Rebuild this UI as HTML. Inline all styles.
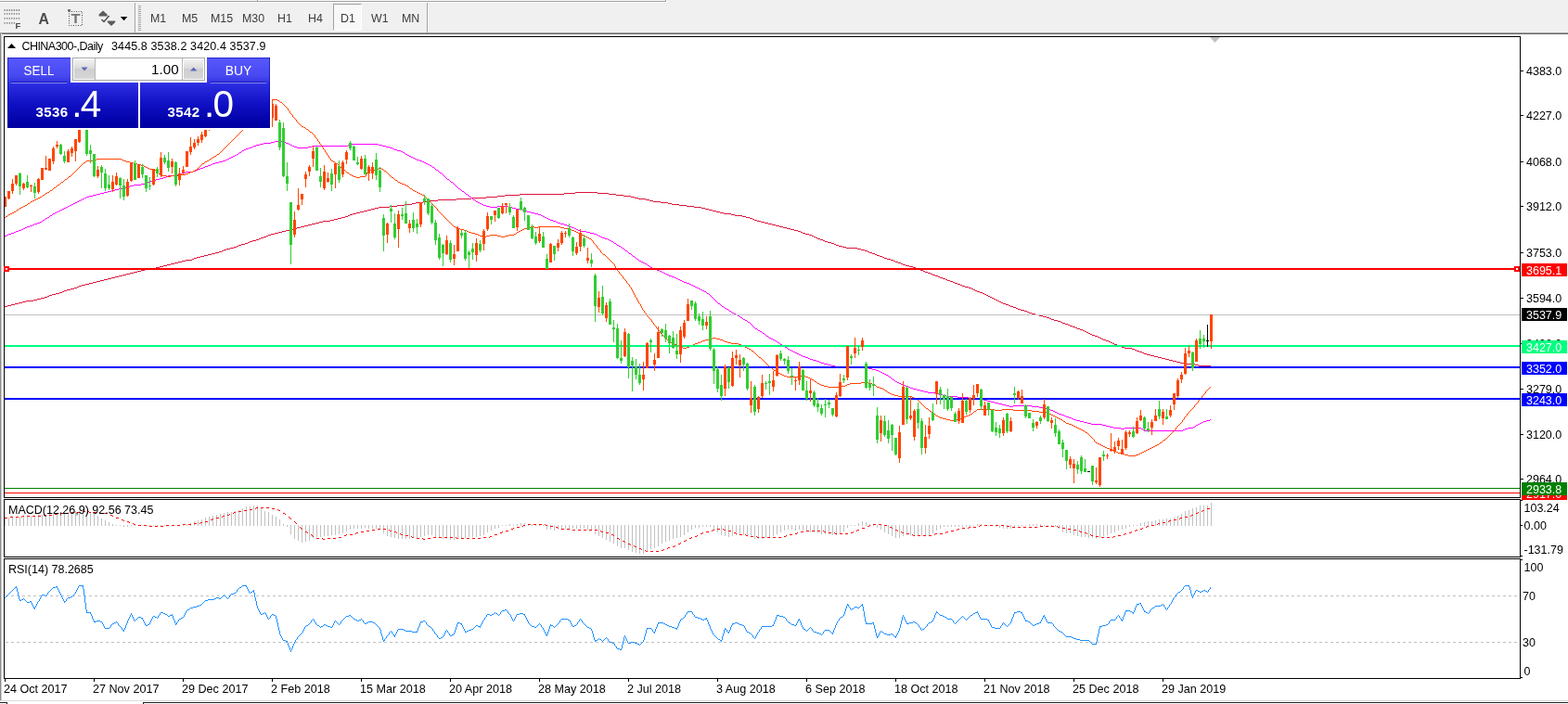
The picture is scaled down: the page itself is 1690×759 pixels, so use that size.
<!DOCTYPE html>
<html lang="en"><head><meta charset="utf-8"><title>CHINA300-,Daily</title>
<style>
html,body{margin:0;padding:0;background:#fff;}
body{width:1690px;height:759px;overflow:hidden;position:relative;font-family:"Liberation Sans", "DejaVu Sans", sans-serif;font-size:12px;color:#000;}
.a{position:absolute;}
#tb{left:0;top:0;width:1690px;height:37px;background:#f0f0f0;}
.tf{position:absolute;top:12px;height:16px;line-height:16px;font-size:12.4px;color:#3c3c3c;white-space:nowrap;}
.lbl{position:absolute;left:1645px;height:14px;line-height:14px;font-size:12.5px;white-space:nowrap;color:#000;}
.box{position:absolute;left:1640px;width:49px;height:14px;line-height:14px;font-size:12.5px;color:#fff;white-space:nowrap;}
.box span{position:absolute;left:5px;top:1px;}
.dt{position:absolute;top:735px;height:16px;line-height:16px;font-size:12.6px;white-space:nowrap;color:#000;}
.t{position:absolute;white-space:nowrap;}
svg{position:absolute;left:0;top:0;}
</style></head>
<body>
<div id="tb" class="a"></div>
<div class="a" style="left:0;top:0;width:717px;height:1px;background:#fafafa"></div>
<div class="a" style="left:0;top:1px;width:718px;height:1px;background:#a0a0a0"></div>
<div class="a" style="left:0;top:2px;width:719px;height:1px;background:#fff"></div>
<div class="a" style="left:717px;top:0;width:1px;height:2px;background:#a0a0a0"></div>
<div class="a" style="left:718px;top:0;width:1px;height:3px;background:#fff"></div>
<div class="a" style="left:277px;top:0;width:1px;height:2px;background:#a0a0a0"></div>
<div class="a" style="left:278px;top:0;width:1px;height:1px;background:#fff"></div>
<div class="a" style="left:0;top:35px;width:1690px;height:1px;background:#a0a0a0"></div>
<div class="a" style="left:0;top:36px;width:1690px;height:1px;background:#696969"></div>
<div class="a" style="left:0;top:37px;width:1690px;height:722px;background:#fff"></div>
<div class="a" style="left:0;top:36px;width:2px;height:720px;background:linear-gradient(90deg,#8c8c8c 0,#8c8c8c 1px,#d0d0d0 1px)"></div>
<div class="a" style="left:145px;top:3px;width:1px;height:32px;background:#a0a0a0"></div>
<div class="a" style="left:146px;top:3px;width:1px;height:32px;background:#fff"></div>
<div class="a" style="left:460px;top:3px;width:1px;height:32px;background:#a0a0a0"></div>
<div class="a" style="left:461px;top:3px;width:1px;height:32px;background:#fff"></div>
<div class="a" style="left:359px;top:4px;width:31px;height:29px;box-sizing:border-box;border:1px solid;border-color:#a0a0a0 #fff #fff #a0a0a0;background:#f8f8f8"></div>
<div class="tf" style="left:162px">M1</div>
<div class="tf" style="left:196px">M5</div>
<div class="tf" style="left:227px">M15</div>
<div class="tf" style="left:261px">M30</div>
<div class="tf" style="left:299px">H1</div>
<div class="tf" style="left:332px">H4</div>
<div class="tf" style="left:367px">D1</div>
<div class="tf" style="left:400px">W1</div>
<div class="tf" style="left:433px">MN</div>
<div class="lbl" style="top:70px">4383.0</div>
<div class="lbl" style="top:118px">4227.0</div>
<div class="lbl" style="top:168px">4068.0</div>
<div class="lbl" style="top:216px">3912.0</div>
<div class="lbl" style="top:266px">3753.0</div>
<div class="lbl" style="top:315px">3594.0</div>
<div class="lbl" style="top:364px">3436.0</div>
<div class="lbl" style="top:413px">3279.0</div>
<div class="lbl" style="top:462px">3120.0</div>
<div class="lbl" style="top:510px">2964.0</div>
<div class="lbl" style="left:1642.5px;top:541px">103.24</div>
<div class="lbl" style="left:1642.5px;top:560px">0.00</div>
<div class="lbl" style="left:1642.5px;top:586px">-131.79</div>
<div class="lbl" style="left:1642.5px;top:605px">100</div>
<div class="lbl" style="left:1641px;top:636px">70</div>
<div class="lbl" style="left:1641px;top:686px">30</div>
<div class="lbl" style="left:1642.5px;top:717px">0</div>
<div class="dt" style="left:4px">24 Oct 2017</div>
<div class="dt" style="left:100px">27 Nov 2017</div>
<div class="dt" style="left:196px">29 Dec 2017</div>
<div class="dt" style="left:292px">2 Feb 2018</div>
<div class="dt" style="left:388px">15 Mar 2018</div>
<div class="dt" style="left:484px">20 Apr 2018</div>
<div class="dt" style="left:580px">28 May 2018</div>
<div class="dt" style="left:676px">2 Jul 2018</div>
<div class="dt" style="left:772px">3 Aug 2018</div>
<div class="dt" style="left:868px">6 Sep 2018</div>
<div class="dt" style="left:964px">18 Oct 2018</div>
<div class="dt" style="left:1060px">21 Nov 2018</div>
<div class="dt" style="left:1156px">25 Dec 2018</div>
<div class="dt" style="left:1252px">29 Jan 2019</div>
<svg width="1690" height="759" viewBox="0 0 1690 759">
<g shape-rendering="crispEdges">
<path d="M5 330h3v1h-3zM8 329h4v1h-4zM12 328h4v1h-4zM16 327h4v1h-4zM20 326h4v1h-4zM24 325h4v1h-4zM28 324h8v1h-8zM36 323h4v1h-4zM40 322h4v1h-4zM44 321h4v1h-4zM48 320h3v1h-3zM51 319h2v1h-2zM53 318h3v1h-3zM56 317h4v1h-4zM60 316h4v1h-4zM64 315h3v1h-3zM67 314h2v1h-2zM69 313h3v1h-3zM72 312h4v1h-4zM76 311h4v1h-4zM80 310h3v1h-3zM83 309h2v1h-2zM85 308h3v1h-3zM88 307h4v1h-4zM92 306h4v1h-4zM96 305h4v1h-4zM100 304h4v1h-4zM104 303h4v1h-4zM108 302h4v1h-4zM112 301h4v1h-4zM116 300h4v1h-4zM120 299h4v1h-4zM124 298h4v1h-4zM128 297h4v1h-4zM132 296h4v1h-4zM136 295h4v1h-4zM140 294h4v1h-4zM144 293h4v1h-4zM148 292h4v1h-4zM152 291h4v1h-4zM156 290h8v1h-8zM164 289h4v1h-4zM168 288h4v1h-4zM172 287h4v1h-4zM176 286h4v1h-4zM180 285h4v1h-4zM184 284h4v1h-4zM188 283h4v1h-4zM192 282h4v1h-4zM196 281h4v1h-4zM200 280h7v1h-7zM207 279h2v1h-2zM209 278h3v1h-3zM212 277h4v1h-4zM216 276h4v1h-4zM220 275h4v1h-4zM224 274h4v1h-4zM228 273h4v1h-4zM232 272h4v1h-4zM236 271h3v1h-3zM239 270h2v1h-2zM241 269h3v1h-3zM244 268h4v1h-4zM248 267h4v1h-4zM252 266h3v1h-3zM255 265h2v1h-2zM257 264h3v1h-3zM260 263h4v1h-4zM264 262h3v1h-3zM267 261h2v1h-2zM269 260h3v1h-3zM272 259h4v1h-4zM276 258h3v1h-3zM279 257h2v1h-2zM281 256h3v1h-3zM284 255h3v1h-3zM287 254h2v1h-2zM289 253h3v1h-3zM292 252h4v1h-4zM296 251h4v1h-4zM300 250h4v1h-4zM304 249h4v1h-4zM308 248h4v1h-4zM312 247h4v1h-4zM316 246h4v1h-4zM320 245h4v1h-4zM324 244h4v1h-4zM328 243h4v1h-4zM332 242h4v1h-4zM336 241h4v1h-4zM340 240h4v1h-4zM344 239h4v1h-4zM348 238h8v1h-8zM356 237h4v1h-4zM360 236h4v1h-4zM364 235h4v1h-4zM368 234h4v1h-4zM372 233h3v1h-3zM375 232h2v1h-2zM377 231h3v1h-3zM380 230h4v1h-4zM384 229h4v1h-4zM388 228h4v1h-4zM392 227h4v1h-4zM396 226h4v1h-4zM400 225h4v1h-4zM404 224h4v1h-4zM408 223h12v1h-12zM420 222h8v1h-8zM428 221h8v1h-8zM436 220h8v1h-8zM444 219h4v1h-4zM448 218h8v1h-8zM456 217h4v1h-4zM460 216h12v1h-12zM472 215h20v1h-20zM492 214h16v1h-16zM508 213h16v1h-16zM524 212h12v1h-12zM536 211h8v1h-8zM544 210h16v1h-16zM560 209h48v1h-48zM608 208h12v1h-12zM620 207h24v1h-24zM644 208h12v1h-12zM656 209h8v1h-8zM664 210h8v1h-8zM672 211h8v1h-8zM680 212h4v1h-4zM684 213h4v1h-4zM688 214h8v1h-8zM696 215h4v1h-4zM700 216h4v1h-4zM704 217h8v1h-8zM712 218h8v1h-8zM720 219h4v1h-4zM724 220h8v1h-8zM732 221h8v1h-8zM740 222h8v1h-8zM748 223h8v1h-8zM756 224h4v1h-4zM760 225h4v1h-4zM764 226h4v1h-4zM768 227h4v1h-4zM772 228h4v1h-4zM776 229h4v1h-4zM780 230h8v1h-8zM788 231h4v1h-4zM792 232h8v1h-8zM800 233h4v1h-4zM804 234h4v1h-4zM808 235h3v1h-3zM811 236h2v1h-2zM813 237h3v1h-3zM816 238h4v1h-4zM820 239h4v1h-4zM824 240h4v1h-4zM828 241h4v1h-4zM832 242h4v1h-4zM836 243h4v1h-4zM840 244h4v1h-4zM844 245h4v1h-4zM848 246h4v1h-4zM852 247h4v1h-4zM856 248h4v1h-4zM860 249h3v1h-3zM863 250h2v1h-2zM865 251h3v1h-3zM868 252h4v1h-4zM872 253h3v1h-3zM875 254h2v1h-2zM877 255h2v1h-2zM879 256h2v1h-2zM881 257h3v1h-3zM884 258h3v1h-3zM887 259h2v1h-2zM889 260h3v1h-3zM892 261h4v1h-4zM896 262h3v1h-3zM899 263h2v1h-2zM901 264h3v1h-3zM904 265h4v1h-4zM908 266h4v1h-4zM912 267h12v1h-12zM924 268h4v1h-4zM928 269h4v1h-4zM932 270h3v1h-3zM935 271h2v1h-2zM937 272h3v1h-3zM940 273h3v1h-3zM943 274h2v1h-2zM945 275h3v1h-3zM948 276h3v1h-3zM951 277h2v1h-2zM953 278h3v1h-3zM956 279h4v1h-4zM960 280h3v1h-3zM963 281h2v1h-2zM965 282h3v1h-3zM968 283h3v1h-3zM971 284h2v1h-2zM973 285h3v1h-3zM976 286h4v1h-4zM980 287h4v1h-4zM984 288h3v1h-3zM987 289h2v1h-2zM989 290h3v1h-3zM992 291h3v1h-3zM995 292h2v1h-2zM997 293h3v1h-3zM1000 294h3v1h-3zM1003 295h2v1h-2zM1005 296h3v1h-3zM1008 297h3v1h-3zM1011 298h2v1h-2zM1013 299h3v1h-3zM1016 300h3v1h-3zM1019 301h2v1h-2zM1021 302h3v1h-3zM1024 303h3v1h-3zM1027 304h2v1h-2zM1029 305h3v1h-3zM1032 306h3v1h-3zM1035 307h2v1h-2zM1037 308h3v1h-3zM1040 309h4v1h-4zM1044 310h3v1h-3zM1047 311h2v1h-2zM1049 312h2v1h-2zM1051 313h2v1h-2zM1053 314h3v1h-3zM1056 315h3v1h-3zM1059 316h2v1h-2zM1061 317h2v1h-2zM1063 318h2v1h-2zM1065 319h2v1h-2zM1067 320h2v1h-2zM1069 321h2v1h-2zM1071 322h2v1h-2zM1073 323h2v1h-2zM1075 324h2v1h-2zM1077 325h2v1h-2zM1079 326h2v1h-2zM1081 327h3v1h-3zM1084 328h3v1h-3zM1087 329h2v1h-2zM1089 330h3v1h-3zM1092 331h3v1h-3zM1095 332h2v1h-2zM1097 333h3v1h-3zM1100 334h4v1h-4zM1104 335h3v1h-3zM1107 336h2v1h-2zM1109 337h3v1h-3zM1112 338h4v1h-4zM1116 339h4v1h-4zM1120 340h4v1h-4zM1124 341h4v1h-4zM1128 342h3v1h-3zM1131 343h2v1h-2zM1133 344h3v1h-3zM1136 345h4v1h-4zM1140 346h3v1h-3zM1143 347h2v1h-2zM1145 348h3v1h-3zM1148 349h3v1h-3zM1151 350h2v1h-2zM1153 351h3v1h-3zM1156 352h3v1h-3zM1159 353h2v1h-2zM1161 354h3v1h-3zM1164 355h3v1h-3zM1167 356h2v1h-2zM1169 357h2v1h-2zM1171 358h2v1h-2zM1173 359h2v1h-2zM1175 360h2v1h-2zM1177 361h3v1h-3zM1180 362h3v1h-3zM1183 363h2v1h-2zM1185 364h2v1h-2zM1187 365h2v1h-2zM1189 366h3v1h-3zM1192 367h3v1h-3zM1195 368h2v1h-2zM1197 369h2v1h-2zM1199 370h2v1h-2zM1201 371h3v1h-3zM1204 372h3v1h-3zM1207 373h2v1h-2zM1209 374h3v1h-3zM1212 375h8v1h-8zM1220 376h3v1h-3zM1223 377h2v1h-2zM1225 378h3v1h-3zM1228 379h3v1h-3zM1231 380h2v1h-2zM1233 381h3v1h-3zM1236 382h4v1h-4zM1240 383h4v1h-4zM1244 384h4v1h-4zM1248 385h4v1h-4zM1252 386h4v1h-4zM1256 387h4v1h-4zM1260 388h4v1h-4zM1264 389h4v1h-4zM1268 390h4v1h-4zM1272 391h4v1h-4zM1276 392h12v1h-12zM1288 393h4v1h-4zM1292 394h13v1h-13z" fill="#dc143c"/>
<path d="M5 254h2v1h-2zM7 253h2v1h-2zM9 252h3v1h-3zM12 251h3v1h-3zM15 250h2v1h-2zM17 249h3v1h-3zM20 248h3v1h-3zM23 247h2v1h-2zM25 246h2v1h-2zM27 245h2v1h-2zM29 244h3v1h-3zM32 243h3v1h-3zM35 242h2v1h-2zM37 241h3v1h-3zM40 240h3v1h-3zM43 239h2v1h-2zM45 238h1v1h-1zM46 237h2v1h-2zM48 236h1v1h-1zM49 235h2v1h-2zM51 234h2v1h-2zM53 233h1v1h-1zM54 232h2v1h-2zM56 231h1v1h-1zM57 230h2v1h-2zM59 229h2v1h-2zM61 228h2v1h-2zM63 227h2v1h-2zM65 226h2v1h-2zM67 225h2v1h-2zM69 224h2v1h-2zM71 223h2v1h-2zM73 222h2v1h-2zM75 221h2v1h-2zM77 220h2v1h-2zM79 219h2v1h-2zM81 218h2v1h-2zM83 217h2v1h-2zM85 216h2v1h-2zM87 215h2v1h-2zM89 214h2v1h-2zM91 213h2v1h-2zM93 212h3v1h-3zM96 211h4v1h-4zM100 210h4v1h-4zM104 209h4v1h-4zM108 208h4v1h-4zM112 207h4v1h-4zM116 206h4v1h-4zM120 205h4v1h-4zM124 204h4v1h-4zM128 203h4v1h-4zM132 202h4v1h-4zM136 201h4v1h-4zM140 200h4v1h-4zM144 199h8v1h-8zM152 198h4v1h-4zM156 197h3v1h-3zM159 196h2v1h-2zM161 195h3v1h-3zM164 194h4v1h-4zM168 193h4v1h-4zM172 192h4v1h-4zM176 191h3v1h-3zM179 190h2v1h-2zM181 189h7v1h-7zM188 188h4v1h-4zM192 187h4v1h-4zM196 186h4v1h-4zM200 185h8v1h-8zM208 184h3v1h-3zM211 183h2v1h-2zM213 182h3v1h-3zM216 181h3v1h-3zM219 180h2v1h-2zM221 179h3v1h-3zM224 178h3v1h-3zM227 177h2v1h-2zM229 176h3v1h-3zM232 175h4v1h-4zM236 174h4v1h-4zM240 173h3v1h-3zM243 172h2v1h-2zM245 171h2v1h-2zM247 170h2v1h-2zM249 169h2v1h-2zM251 168h2v1h-2zM253 167h2v1h-2zM255 166h2v1h-2zM257 165h1v1h-1zM258 164h2v1h-2zM260 163h1v1h-1zM261 162h2v1h-2zM263 161h2v1h-2zM265 160h3v1h-3zM268 159h3v1h-3zM271 158h2v1h-2zM273 157h3v1h-3zM276 156h4v1h-4zM280 155h4v1h-4zM284 154h8v1h-8zM292 153h4v1h-4zM296 152h8v1h-8zM304 153h4v1h-4zM308 154h3v1h-3zM311 155h2v1h-2zM313 156h2v1h-2zM315 157h2v1h-2zM317 158h3v1h-3zM320 159h12v1h-12zM332 158h4v1h-4zM336 157h39v1h-39zM375 156h2v1h-2zM377 155h31v1h-31zM408 156h4v1h-4zM412 157h4v1h-4zM416 158h4v1h-4zM420 159h3v1h-3zM423 160h2v1h-2zM425 161h3v1h-3zM428 162h4v1h-4zM432 163h2v1h-2zM434 164h2v1h-2zM436 165h1v1h-1zM437 166h2v1h-2zM439 167h2v1h-2zM441 168h2v1h-2zM443 169h2v1h-2zM445 170h2v1h-2zM447 171h2v1h-2zM449 172h3v1h-3zM452 173h3v1h-3zM455 174h2v1h-2zM457 175h2v1h-2zM459 176h2v1h-2zM461 177h2v1h-2zM463 178h2v1h-2zM465 179h1v1h-1zM466 180h2v1h-2zM468 181h1v1h-1zM469 182h1v1h-1zM470 183h2v1h-2zM472 184h1v1h-1zM473 185h1v1h-1zM474 186h2v1h-2zM476 187h1v1h-1zM477 188h1v1h-1zM478 189h1v1h-1zM479 190h1v1h-1zM480 191h1v1h-1zM481 192h1v1h-1zM482 193h2v1h-2zM484 194h1v1h-1zM485 195h1v1h-1zM486 196h2v1h-2zM488 197h1v1h-1zM489 198h1v1h-1zM490 199h1v1h-1zM491 200h1v1h-1zM492 201h1v1h-1zM493 202h1v1h-1zM494 203h2v1h-2zM496 204h1v1h-1zM497 205h1v1h-1zM498 206h2v1h-2zM500 207h1v1h-1zM501 208h1v1h-1zM502 209h2v1h-2zM504 210h1v1h-1zM505 211h1v1h-1zM506 212h2v1h-2zM508 213h1v1h-1zM509 214h1v1h-1zM510 215h2v1h-2zM512 216h1v1h-1zM513 217h2v1h-2zM515 218h2v1h-2zM517 219h2v1h-2zM519 220h2v1h-2zM521 221h3v1h-3zM524 222h4v1h-4zM528 223h8v1h-8zM536 222h12v1h-12zM548 223h4v1h-4zM552 224h4v1h-4zM556 225h7v1h-7zM563 226h2v1h-2zM565 227h3v1h-3zM568 228h4v1h-4zM572 229h4v1h-4zM576 230h4v1h-4zM580 231h3v1h-3zM583 232h2v1h-2zM585 233h2v1h-2zM587 234h2v1h-2zM589 235h2v1h-2zM591 236h2v1h-2zM593 237h3v1h-3zM596 238h3v1h-3zM599 239h2v1h-2zM601 240h3v1h-3zM604 241h4v1h-4zM608 242h3v1h-3zM611 243h2v1h-2zM613 244h3v1h-3zM616 245h3v1h-3zM619 246h2v1h-2zM621 247h2v1h-2zM623 248h2v1h-2zM625 249h7v1h-7zM632 250h4v1h-4zM636 251h4v1h-4zM640 252h3v1h-3zM643 253h2v1h-2zM645 254h2v1h-2zM647 255h2v1h-2zM649 256h3v1h-3zM652 257h3v1h-3zM655 258h2v1h-2zM657 259h2v1h-2zM659 260h2v1h-2zM661 261h1v1h-1zM662 262h2v1h-2zM664 263h1v1h-1zM665 264h2v1h-2zM667 265h2v1h-2zM669 266h1v1h-1zM670 267h2v1h-2zM672 268h1v1h-1zM673 269h1v1h-1zM674 270h2v1h-2zM676 271h1v1h-1zM677 272h1v1h-1zM678 273h2v1h-2zM680 274h1v1h-1zM681 275h1v1h-1zM682 276h2v1h-2zM684 277h1v1h-1zM685 278h1v1h-1zM686 279h2v1h-2zM688 280h1v1h-1zM689 281h2v1h-2zM691 282h2v1h-2zM693 283h2v1h-2zM695 284h2v1h-2zM697 285h1v1h-1zM698 286h2v1h-2zM700 287h1v1h-1zM701 288h2v1h-2zM703 289h2v1h-2zM705 290h3v1h-3zM708 291h3v1h-3zM711 292h2v1h-2zM713 293h2v1h-2zM715 294h2v1h-2zM717 295h2v1h-2zM719 296h2v1h-2zM721 297h3v1h-3zM724 298h3v1h-3zM727 299h2v1h-2zM729 300h2v1h-2zM731 301h2v1h-2zM733 302h2v1h-2zM735 303h2v1h-2zM737 304h3v1h-3zM740 305h3v1h-3zM743 306h2v1h-2zM745 307h2v1h-2zM747 308h2v1h-2zM749 309h2v1h-2zM751 310h2v1h-2zM753 311h2v1h-2zM755 312h2v1h-2zM757 313h2v1h-2zM759 314h2v1h-2zM761 315h1v1h-1zM762 316h2v1h-2zM764 317h1v1h-1zM765 318h1v1h-1zM766 319h1v1h-1zM767 320h1v1h-1zM768 321h1v1h-1zM769 322h1v1h-1zM770 323h1v1h-1zM771 324h1v1h-1zM772 325h1v1h-1zM773 326h1v1h-1zM774 327h2v1h-2zM776 328h1v1h-1zM777 329h1v1h-1zM778 330h2v1h-2zM780 331h1v1h-1zM781 332h2v1h-2zM783 333h2v1h-2zM785 334h1v1h-1zM786 335h2v1h-2zM788 336h1v1h-1zM789 337h2v1h-2zM791 338h2v1h-2zM793 339h2v1h-2zM795 340h2v1h-2zM797 341h1v1h-1zM798 342h2v1h-2zM800 343h1v1h-1zM801 344h2v1h-2zM803 345h2v1h-2zM805 346h1v1h-1zM806 347h2v1h-2zM808 348h1v1h-1zM809 349h1v1h-1zM810 350h1v1h-1zM811 351h1v1h-1zM812 352h1v1h-1zM813 353h1v1h-1zM814 354h2v1h-2zM816 355h1v1h-1zM817 356h2v1h-2zM819 357h2v1h-2zM821 358h1v1h-1zM822 359h2v1h-2zM824 360h1v1h-1zM825 361h1v1h-1zM826 362h2v1h-2zM828 363h1v1h-1zM829 364h2v1h-2zM831 365h2v1h-2zM833 366h2v1h-2zM835 367h2v1h-2zM837 368h1v1h-1zM838 369h2v1h-2zM840 370h1v1h-1zM841 371h2v1h-2zM843 372h2v1h-2zM845 373h1v1h-1zM846 374h2v1h-2zM848 375h1v1h-1zM849 376h2v1h-2zM851 377h2v1h-2zM853 378h2v1h-2zM855 379h2v1h-2zM857 380h2v1h-2zM859 381h2v1h-2zM861 382h2v1h-2zM863 383h2v1h-2zM865 384h3v1h-3zM868 385h3v1h-3zM871 386h2v1h-2zM873 387h3v1h-3zM876 388h4v1h-4zM880 389h3v1h-3zM883 390h2v1h-2zM885 391h3v1h-3zM888 392h4v1h-4zM892 393h4v1h-4zM896 394h4v1h-4zM900 395h32v1h-32zM932 396h4v1h-4zM936 397h4v1h-4zM940 398h4v1h-4zM944 399h3v1h-3zM947 400h2v1h-2zM949 401h2v1h-2zM951 402h2v1h-2zM953 403h2v1h-2zM955 404h2v1h-2zM957 405h1v1h-1zM958 406h2v1h-2zM960 407h1v1h-1zM961 408h1v1h-1zM962 409h2v1h-2zM964 410h1v1h-1zM965 411h2v1h-2zM967 412h2v1h-2zM969 413h2v1h-2zM971 414h2v1h-2zM973 415h3v1h-3zM976 416h3v1h-3zM979 417h2v1h-2zM981 418h3v1h-3zM984 419h4v1h-4zM988 420h4v1h-4zM992 421h4v1h-4zM996 422h4v1h-4zM1000 423h8v1h-8zM1008 424h4v1h-4zM1012 425h4v1h-4zM1016 426h4v1h-4zM1020 427h12v1h-12zM1032 428h12v1h-12zM1044 429h8v1h-8zM1052 430h8v1h-8zM1060 431h4v1h-4zM1064 432h4v1h-4zM1068 433h4v1h-4zM1072 434h4v1h-4zM1076 435h4v1h-4zM1080 436h4v1h-4zM1084 437h4v1h-4zM1088 438h4v1h-4zM1092 437h20v1h-20zM1112 438h8v1h-8zM1120 439h7v1h-7zM1127 440h2v1h-2zM1129 441h3v1h-3zM1132 442h3v1h-3zM1135 443h2v1h-2zM1137 444h2v1h-2zM1139 445h2v1h-2zM1141 446h3v1h-3zM1144 447h3v1h-3zM1147 448h2v1h-2zM1149 449h3v1h-3zM1152 450h3v1h-3zM1155 451h2v1h-2zM1157 452h3v1h-3zM1160 453h4v1h-4zM1164 454h4v1h-4zM1168 455h4v1h-4zM1172 456h4v1h-4zM1176 457h12v1h-12zM1188 458h4v1h-4zM1192 459h4v1h-4zM1196 460h4v1h-4zM1200 461h8v1h-8zM1208 462h4v1h-4zM1212 461h18v1h-18zM1230 462h2v1h-2zM1232 463h1v1h-1zM1233 464h42v1h-42zM1275 463h2v1h-2zM1277 462h3v1h-3zM1280 461h6v1h-6zM1286 460h2v1h-2zM1288 459h1v1h-1zM1289 458h2v1h-2zM1291 457h2v1h-2zM1293 456h2v1h-2zM1295 455h2v1h-2zM1297 454h3v1h-3zM1300 453h4v1h-4zM1304 452h1v1h-1z" fill="#ff00ff"/>
<path d="M5 234h1v1h-1zM6 233h2v1h-2zM8 232h1v1h-1zM9 231h2v1h-2zM11 230h2v1h-2zM13 229h2v1h-2zM15 228h2v1h-2zM17 227h1v1h-1zM18 226h2v1h-2zM20 225h1v1h-1zM21 224h2v1h-2zM23 223h2v1h-2zM25 222h2v1h-2zM27 221h2v1h-2zM29 220h1v1h-1zM30 219h2v1h-2zM32 218h1v1h-1zM33 217h2v1h-2zM35 216h2v1h-2zM37 215h2v1h-2zM39 214h2v1h-2zM41 213h2v1h-2zM43 212h2v1h-2zM45 211h1v1h-1zM46 210h2v1h-2zM48 209h1v1h-1zM49 208h2v1h-2zM51 207h2v1h-2zM53 206h1v1h-1zM54 205h2v1h-2zM56 204h1v1h-1zM57 203h1v1h-1zM58 202h2v1h-2zM60 201h1v1h-1zM61 200h1v1h-1zM62 199h2v1h-2zM64 198h1v1h-1zM65 197h1v1h-1zM66 196h2v1h-2zM68 195h1v1h-1zM69 194h1v1h-1zM70 193h2v1h-2zM72 192h1v1h-1zM73 191h1v1h-1zM74 190h2v1h-2zM76 189h1v1h-1zM77 188h1v1h-1zM78 187h1v1h-1zM79 186h1v1h-1zM80 185h1v1h-1zM81 184h1v1h-1zM82 183h1v1h-1zM83 182h1v1h-1zM84 181h1v1h-1zM85 180h1v1h-1zM86 179h1v1h-1zM87 178h1v1h-1zM88 177h1v1h-1zM89 176h1v1h-1zM90 175h2v1h-2zM92 174h1v1h-1zM93 173h7v1h-7zM100 172h4v1h-4zM104 171h27v1h-27zM131 172h2v1h-2zM133 173h3v1h-3zM136 174h4v1h-4zM140 175h4v1h-4zM144 176h4v1h-4zM148 177h4v1h-4zM152 178h3v1h-3zM155 179h2v1h-2zM157 180h2v1h-2zM159 181h2v1h-2zM161 182h5v1h-5zM166 183h2v1h-2zM168 184h1v1h-1zM169 185h1v1h-1zM170 186h1v1h-1zM171 187h1v1h-1zM172 188h1v1h-1zM173 189h7v1h-7zM180 190h4v1h-4zM184 189h8v1h-8zM192 188h8v1h-8zM200 187h3v1h-3zM203 186h2v1h-2zM205 185h3v1h-3zM208 184h2v1h-2zM210 183h2v1h-2zM212 182h1v1h-1zM213 181h1v1h-1zM214 180h1v1h-1zM215 179h1v1h-1zM216 178h1v1h-1zM217 177h1v1h-1zM218 176h2v1h-2zM220 175h1v1h-1zM221 174h2v1h-2zM223 173h2v1h-2zM225 172h1v1h-1zM226 171h2v1h-2zM228 170h1v1h-1zM229 169h2v1h-2zM231 168h2v1h-2zM233 167h1v1h-1zM234 166h2v1h-2zM236 165h1v1h-1zM237 164h1v1h-1zM238 163h1v1h-1zM239 162h1v1h-1zM240 161h1v1h-1zM241 160h1v1h-1zM242 159h1v1h-1zM243 158h1v1h-1zM244 157h1v1h-1zM245 156h1v1h-1zM246 155h1v1h-1zM247 154h1v1h-1zM248 153h1v1h-1zM249 152h1v1h-1zM250 151h1v1h-1zM251 150h1v1h-1zM252 149h1v1h-1zM253 148h1v1h-1zM254 147h1v1h-1zM255 146h1v1h-1zM256 145h1v1h-1zM257 144h1v1h-1zM258 143h1v1h-1zM259 142h1v1h-1zM260 141h1v1h-1zM261 140h1v1h-1zM262 139h1v1h-1zM263 138h1v1h-1zM264 137h1v1h-1zM265 136h1v1h-1zM266 135h1v1h-1zM267 134h1v1h-1zM268 133h1v1h-1zM269 132h1v1h-1zM270 131h1v1h-1zM271 129h1v2h-1zM272 128h1v1h-1zM273 127h1v1h-1zM274 126h1v1h-1zM275 124h1v2h-1zM276 123h1v1h-1zM277 122h1v1h-1zM278 121h1v1h-1zM279 120h1v1h-1zM280 119h1v1h-1zM281 118h1v1h-1zM282 117h1v1h-1zM283 115h1v2h-1zM284 114h1v1h-1zM285 113h1v1h-1zM286 112h1v1h-1zM287 111h1v1h-1zM288 110h1v1h-1zM289 109h2v1h-2zM291 108h2v1h-2zM293 107h6v1h-6zM299 108h2v1h-2zM301 109h1v1h-1zM302 110h2v1h-2zM304 111h1v1h-1zM305 112h1v1h-1zM306 113h1v1h-1zM307 114h1v1h-1zM308 115h1v1h-1zM309 116h1v1h-1zM310 117h1v2h-1zM311 119h1v1h-1zM312 120h1v2h-1zM313 122h1v1h-1zM314 123h1v1h-1zM315 124h1v2h-1zM316 126h1v1h-1zM317 127h1v1h-1zM318 128h1v1h-1zM319 129h1v2h-1zM320 131h1v1h-1zM321 132h1v1h-1zM322 133h1v1h-1zM323 134h1v1h-1zM324 135h1v1h-1zM325 136h2v1h-2zM327 137h2v1h-2zM329 138h1v1h-1zM330 139h2v1h-2zM332 140h1v1h-1zM333 141h1v1h-1zM334 142h2v1h-2zM336 143h1v1h-1zM337 144h1v1h-1zM338 145h1v1h-1zM339 146h1v2h-1zM340 148h1v1h-1zM341 149h1v1h-1zM342 150h1v2h-1zM343 152h1v1h-1zM344 153h1v2h-1zM345 155h1v1h-1zM346 156h1v2h-1zM347 158h1v1h-1zM348 159h1v2h-1zM349 161h1v1h-1zM350 162h1v2h-1zM351 164h1v1h-1zM352 165h1v2h-1zM353 167h1v1h-1zM354 168h1v2h-1zM355 170h1v1h-1zM356 171h1v2h-1zM357 173h2v1h-2zM359 174h2v1h-2zM361 175h1v1h-1zM362 176h2v1h-2zM364 177h1v1h-1zM365 178h1v1h-1zM366 179h1v1h-1zM367 180h1v1h-1zM368 181h1v1h-1zM369 182h1v1h-1zM370 183h2v1h-2zM372 184h1v1h-1zM373 185h1v1h-1zM374 186h2v1h-2zM376 187h1v1h-1zM377 188h2v1h-2zM379 189h2v1h-2zM381 190h3v1h-3zM384 191h4v1h-4zM388 190h6v1h-6zM394 188h1v2h-1zM395 186h1v2h-1zM396 184h1v2h-1zM397 183h7v1h-7zM404 182h4v1h-4zM408 181h3v1h-3zM411 182h2v1h-2zM413 183h1v1h-1zM414 184h2v1h-2zM416 185h1v1h-1zM417 186h1v1h-1zM418 187h1v1h-1zM419 188h1v1h-1zM420 189h1v1h-1zM421 190h1v1h-1zM422 191h2v1h-2zM424 192h1v1h-1zM425 193h1v1h-1zM426 194h2v1h-2zM428 195h1v1h-1zM429 196h2v1h-2zM431 197h2v1h-2zM433 198h3v1h-3zM436 199h2v1h-2zM438 200h2v1h-2zM440 201h1v1h-1zM441 202h1v1h-1zM442 203h2v1h-2zM444 204h1v1h-1zM445 205h2v1h-2zM447 206h2v1h-2zM449 207h2v1h-2zM451 208h2v1h-2zM453 209h2v1h-2zM455 210h2v1h-2zM457 211h1v1h-1zM458 212h1v1h-1zM459 213h1v1h-1zM460 214h1v1h-1zM461 215h1v1h-1zM462 216h1v1h-1zM463 217h1v1h-1zM464 218h1v1h-1zM465 219h1v1h-1zM466 220h1v1h-1zM467 221h1v1h-1zM468 222h1v1h-1zM469 223h1v1h-1zM470 224h1v1h-1zM471 225h1v2h-1zM472 227h1v1h-1zM473 228h1v1h-1zM474 229h1v1h-1zM475 230h1v1h-1zM476 231h1v1h-1zM477 232h1v1h-1zM478 233h1v1h-1zM479 234h1v1h-1zM480 235h1v1h-1zM481 236h1v1h-1zM482 237h1v1h-1zM483 238h1v1h-1zM484 239h1v1h-1zM485 240h1v1h-1zM486 241h1v1h-1zM487 242h1v1h-1zM488 243h1v1h-1zM489 244h2v1h-2zM491 245h2v1h-2zM493 246h3v1h-3zM496 247h4v1h-4zM500 248h3v1h-3zM503 249h2v1h-2zM505 250h3v1h-3zM508 251h4v1h-4zM512 252h3v1h-3zM515 253h2v1h-2zM517 254h3v1h-3zM520 255h4v1h-4zM524 254h4v1h-4zM528 253h8v1h-8zM536 254h4v1h-4zM540 255h4v1h-4zM544 254h4v1h-4zM548 253h6v1h-6zM554 252h2v1h-2zM556 251h1v1h-1zM557 250h2v1h-2zM559 249h2v1h-2zM561 248h2v1h-2zM563 247h2v1h-2zM565 246h3v1h-3zM568 245h4v1h-4zM572 244h4v1h-4zM576 245h4v1h-4zM580 244h24v1h-24zM604 245h4v1h-4zM608 246h4v1h-4zM612 247h4v1h-4zM616 248h3v1h-3zM619 249h2v1h-2zM621 250h2v1h-2zM623 251h2v1h-2zM625 252h2v1h-2zM627 253h2v1h-2zM629 254h2v1h-2zM631 255h2v1h-2zM633 256h2v1h-2zM635 257h2v1h-2zM637 258h1v1h-1zM638 259h1v1h-1zM639 260h1v2h-1zM640 262h1v1h-1zM641 263h1v1h-1zM642 264h1v1h-1zM643 265h1v2h-1zM644 267h1v1h-1zM645 268h1v1h-1zM646 269h1v1h-1zM647 270h1v2h-1zM648 272h1v1h-1zM649 273h1v1h-1zM650 274h2v1h-2zM652 275h1v1h-1zM653 276h1v1h-1zM654 277h1v1h-1zM655 278h1v1h-1zM656 279h1v1h-1zM657 280h1v1h-1zM658 281h1v1h-1zM659 282h1v1h-1zM660 283h1v1h-1zM661 284h1v1h-1zM662 285h1v2h-1zM663 287h1v2h-1zM664 289h1v2h-1zM665 291h1v1h-1zM666 292h1v1h-1zM667 293h1v2h-1zM668 295h1v1h-1zM669 296h1v1h-1zM670 297h1v1h-1zM671 298h1v2h-1zM672 300h1v1h-1zM673 301h1v1h-1zM674 302h1v1h-1zM675 303h1v2h-1zM676 305h1v1h-1zM677 306h1v1h-1zM678 307h1v2h-1zM679 309h1v1h-1zM680 310h1v2h-1zM681 312h1v2h-1zM682 314h1v2h-1zM683 316h1v2h-1zM684 318h1v2h-1zM685 320h1v1h-1zM686 321h1v2h-1zM687 323h1v2h-1zM688 325h1v2h-1zM689 327h1v1h-1zM690 328h1v2h-1zM691 330h1v2h-1zM692 332h1v2h-1zM693 334h1v1h-1zM694 335h1v2h-1zM695 337h1v1h-1zM696 338h1v2h-1zM697 340h1v1h-1zM698 341h1v1h-1zM699 342h1v1h-1zM700 343h1v1h-1zM701 344h1v1h-1zM702 345h1v2h-1zM703 347h1v1h-1zM704 348h1v2h-1zM705 350h1v1h-1zM706 351h1v1h-1zM707 352h1v2h-1zM708 354h1v1h-1zM709 355h1v1h-1zM710 356h1v1h-1zM711 357h1v2h-1zM712 359h1v1h-1zM713 360h1v1h-1zM714 361h1v1h-1zM715 362h1v1h-1zM716 363h1v1h-1zM717 364h1v1h-1zM718 365h1v1h-1zM719 366h1v1h-1zM720 367h1v1h-1zM721 368h2v1h-2zM723 369h2v1h-2zM725 370h2v1h-2zM727 371h2v1h-2zM729 372h2v1h-2zM731 373h2v1h-2zM733 374h3v1h-3zM736 375h4v1h-4zM740 374h3v1h-3zM743 373h2v1h-2zM745 372h2v1h-2zM747 371h2v1h-2zM749 370h3v1h-3zM752 369h3v1h-3zM755 368h2v1h-2zM757 367h3v1h-3zM760 366h4v1h-4zM764 365h4v1h-4zM768 364h4v1h-4zM772 365h4v1h-4zM776 366h3v1h-3zM779 367h2v1h-2zM781 368h3v1h-3zM784 369h4v1h-4zM788 370h8v1h-8zM796 371h3v1h-3zM799 372h2v1h-2zM801 373h2v1h-2zM803 374h2v1h-2zM805 375h2v1h-2zM807 376h2v1h-2zM809 377h1v1h-1zM810 378h2v1h-2zM812 379h1v1h-1zM813 380h1v1h-1zM814 381h1v1h-1zM815 382h1v1h-1zM816 383h1v1h-1zM817 384h1v1h-1zM818 385h2v1h-2zM820 386h1v1h-1zM821 387h1v1h-1zM822 388h1v1h-1zM823 389h1v1h-1zM824 390h1v1h-1zM825 391h1v1h-1zM826 392h1v1h-1zM827 393h1v1h-1zM828 394h1v1h-1zM829 395h1v1h-1zM830 396h2v1h-2zM832 397h1v1h-1zM833 398h1v1h-1zM834 399h2v1h-2zM836 400h1v1h-1zM837 401h2v1h-2zM839 402h2v1h-2zM841 403h2v1h-2zM843 404h2v1h-2zM845 405h3v1h-3zM848 406h12v1h-12zM860 405h8v1h-8zM868 406h3v1h-3zM871 407h2v1h-2zM873 408h2v1h-2zM875 409h2v1h-2zM877 410h1v1h-1zM878 411h2v1h-2zM880 412h1v1h-1zM881 413h2v1h-2zM883 414h2v1h-2zM885 415h3v1h-3zM888 416h4v1h-4zM892 417h12v1h-12zM904 416h7v1h-7zM911 415h2v1h-2zM913 414h3v1h-3zM916 413h12v1h-12zM928 412h8v1h-8zM936 413h4v1h-4zM940 414h2v1h-2zM942 415h2v1h-2zM944 416h1v1h-1zM945 417h3v1h-3zM948 418h3v1h-3zM951 419h2v1h-2zM953 420h1v1h-1zM954 421h2v1h-2zM956 422h1v1h-1zM957 423h2v1h-2zM959 424h2v1h-2zM961 425h3v1h-3zM964 426h4v1h-4zM968 427h15v1h-15zM983 428h2v1h-2zM985 429h2v1h-2zM987 430h2v1h-2zM989 431h1v1h-1zM990 432h1v1h-1zM991 433h1v1h-1zM992 434h1v1h-1zM993 435h1v1h-1zM994 436h1v1h-1zM995 437h1v1h-1zM996 438h1v1h-1zM997 439h1v1h-1zM998 440h2v1h-2zM1000 441h1v1h-1zM1001 442h1v1h-1zM1002 443h2v1h-2zM1004 444h1v1h-1zM1005 445h1v1h-1zM1006 446h2v1h-2zM1008 447h1v1h-1zM1009 448h2v1h-2zM1011 449h2v1h-2zM1013 450h3v1h-3zM1016 451h4v1h-4zM1020 452h4v1h-4zM1024 453h4v1h-4zM1028 452h4v1h-4zM1032 451h4v1h-4zM1036 450h3v1h-3zM1039 449h2v1h-2zM1041 448h3v1h-3zM1044 447h2v1h-2zM1046 446h2v1h-2zM1048 445h1v1h-1zM1049 444h1v1h-1zM1050 443h2v1h-2zM1052 442h1v1h-1zM1053 441h19v1h-19zM1072 442h8v1h-8zM1080 441h12v1h-12zM1092 442h20v1h-20zM1112 443h8v1h-8zM1120 444h8v1h-8zM1128 445h3v1h-3zM1131 446h2v1h-2zM1133 447h2v1h-2zM1135 448h2v1h-2zM1137 449h2v1h-2zM1139 450h2v1h-2zM1141 451h2v1h-2zM1143 452h2v1h-2zM1145 453h1v1h-1zM1146 454h2v1h-2zM1148 455h1v1h-1zM1149 456h3v1h-3zM1152 457h3v1h-3zM1155 458h2v1h-2zM1157 459h2v1h-2zM1159 460h2v1h-2zM1161 461h2v1h-2zM1163 462h2v1h-2zM1165 463h2v1h-2zM1167 464h2v1h-2zM1169 465h1v1h-1zM1170 466h2v1h-2zM1172 467h1v1h-1zM1173 468h1v1h-1zM1174 469h1v1h-1zM1175 470h1v1h-1zM1176 471h1v1h-1zM1177 472h1v1h-1zM1178 473h1v1h-1zM1179 474h1v2h-1zM1180 476h1v1h-1zM1181 477h2v1h-2zM1183 478h2v1h-2zM1185 479h2v1h-2zM1187 480h2v1h-2zM1189 481h2v1h-2zM1191 482h2v1h-2zM1193 483h3v1h-3zM1196 484h3v1h-3zM1199 485h2v1h-2zM1201 486h2v1h-2zM1203 487h2v1h-2zM1205 488h3v1h-3zM1208 489h4v1h-4zM1212 490h4v1h-4zM1216 491h8v1h-8zM1224 490h3v1h-3zM1227 489h2v1h-2zM1229 488h2v1h-2zM1231 487h2v1h-2zM1233 486h2v1h-2zM1235 485h2v1h-2zM1237 484h2v1h-2zM1239 483h2v1h-2zM1241 482h2v1h-2zM1243 481h2v1h-2zM1245 480h2v1h-2zM1247 479h2v1h-2zM1249 478h1v1h-1zM1250 477h2v1h-2zM1252 476h1v1h-1zM1253 475h1v1h-1zM1254 474h2v1h-2zM1256 473h1v1h-1zM1257 472h1v1h-1zM1258 471h1v1h-1zM1259 470h1v1h-1zM1260 469h1v1h-1zM1261 468h1v1h-1zM1262 467h1v1h-1zM1263 466h1v1h-1zM1264 465h1v1h-1zM1265 464h1v1h-1zM1266 463h1v1h-1zM1267 461h1v2h-1zM1268 460h1v1h-1zM1269 459h1v1h-1zM1270 458h1v1h-1zM1271 457h1v1h-1zM1272 456h1v1h-1zM1273 455h1v1h-1zM1274 453h1v2h-1zM1275 452h1v1h-1zM1276 450h1v2h-1zM1277 449h1v1h-1zM1278 448h1v1h-1zM1279 446h1v2h-1zM1280 445h1v1h-1zM1281 444h1v1h-1zM1282 443h1v1h-1zM1283 442h1v1h-1zM1284 441h1v1h-1zM1285 440h1v1h-1zM1286 439h1v1h-1zM1287 437h1v2h-1zM1288 436h1v1h-1zM1289 435h1v1h-1zM1290 434h1v1h-1zM1291 432h1v2h-1zM1292 431h1v1h-1zM1293 430h1v1h-1zM1294 429h1v1h-1zM1295 427h1v2h-1zM1296 426h1v1h-1zM1297 425h1v1h-1zM1298 424h1v1h-1zM1299 422h1v2h-1zM1300 421h1v1h-1zM1301 420h1v1h-1zM1302 419h1v1h-1zM1303 418h1v1h-1zM1304 417h1v1h-1z" fill="#ff4500"/>
<rect x="5" y="339" width="1633" height="1" fill="#c0c0c0"/>
<rect x="5" y="526" width="1633" height="1" fill="#008000"/>
<rect x="5" y="531" width="1633" height="1" fill="#ff0000"/>
<rect x="5" y="429" width="1633" height="2" fill="#0000ff"/>
<rect x="5" y="395" width="1633" height="2" fill="#0000ff"/>
<rect x="5" y="372" width="1633" height="2" fill="#00ff7f"/>
<rect x="5" y="289" width="1633" height="2" fill="#ff0000"/>
<g id="candles">
<rect x="5" y="212" width="1" height="11" fill="#ff4500"/>
<rect x="4" y="212" width="3" height="11" fill="#ff4500"/>
<rect x="9" y="206" width="1" height="9" fill="#ff4500"/>
<rect x="8" y="206" width="3" height="8" fill="#ff4500"/>
<rect x="13" y="193" width="1" height="16" fill="#ff4500"/>
<rect x="12" y="198" width="3" height="8" fill="#ff4500"/>
<rect x="17" y="189" width="1" height="11" fill="#ff4500"/>
<rect x="16" y="189" width="3" height="9" fill="#ff4500"/>
<rect x="21" y="186" width="1" height="24" fill="#32cd32"/>
<rect x="20" y="187" width="3" height="14" fill="#32cd32"/>
<rect x="25" y="197" width="1" height="8" fill="#ff4500"/>
<rect x="24" y="198" width="3" height="5" fill="#ff4500"/>
<rect x="29" y="189" width="1" height="14" fill="#32cd32"/>
<rect x="28" y="196" width="3" height="6" fill="#32cd32"/>
<rect x="33" y="199" width="1" height="8" fill="#ff4500"/>
<rect x="32" y="200" width="3" height="1" fill="#ff4500"/>
<rect x="37" y="197" width="1" height="17" fill="#32cd32"/>
<rect x="36" y="201" width="3" height="7" fill="#32cd32"/>
<rect x="41" y="192" width="1" height="17" fill="#ff4500"/>
<rect x="40" y="193" width="3" height="14" fill="#ff4500"/>
<rect x="45" y="181" width="1" height="13" fill="#ff4500"/>
<rect x="44" y="181" width="3" height="13" fill="#ff4500"/>
<rect x="49" y="168" width="1" height="15" fill="#ff4500"/>
<rect x="48" y="181" width="3" height="2" fill="#ff4500"/>
<rect x="53" y="171" width="1" height="13" fill="#ff4500"/>
<rect x="52" y="171" width="3" height="13" fill="#ff4500"/>
<rect x="57" y="158" width="1" height="19" fill="#ff4500"/>
<rect x="56" y="160" width="3" height="14" fill="#ff4500"/>
<rect x="61" y="152" width="1" height="8" fill="#ff4500"/>
<rect x="60" y="156" width="3" height="2" fill="#ff4500"/>
<rect x="65" y="155" width="1" height="12" fill="#32cd32"/>
<rect x="64" y="156" width="3" height="10" fill="#32cd32"/>
<rect x="69" y="163" width="1" height="13" fill="#32cd32"/>
<rect x="68" y="168" width="3" height="6" fill="#32cd32"/>
<rect x="73" y="161" width="1" height="14" fill="#ff4500"/>
<rect x="72" y="163" width="3" height="12" fill="#ff4500"/>
<rect x="77" y="158" width="1" height="11" fill="#ff4500"/>
<rect x="76" y="160" width="3" height="5" fill="#ff4500"/>
<rect x="81" y="150" width="1" height="24" fill="#ff4500"/>
<rect x="80" y="150" width="3" height="13" fill="#ff4500"/>
<rect x="85" y="114" width="1" height="40" fill="#ff4500"/>
<rect x="84" y="121" width="3" height="32" fill="#ff4500"/>
<rect x="89" y="102" width="1" height="19" fill="#ff4500"/>
<rect x="88" y="103" width="3" height="14" fill="#ff4500"/>
<rect x="93" y="106" width="1" height="62" fill="#32cd32"/>
<rect x="92" y="108" width="3" height="58" fill="#32cd32"/>
<rect x="97" y="156" width="1" height="20" fill="#32cd32"/>
<rect x="96" y="162" width="3" height="4" fill="#32cd32"/>
<rect x="101" y="166" width="1" height="25" fill="#32cd32"/>
<rect x="100" y="166" width="3" height="24" fill="#32cd32"/>
<rect x="105" y="179" width="1" height="13" fill="#ff4500"/>
<rect x="104" y="183" width="3" height="7" fill="#ff4500"/>
<rect x="109" y="178" width="1" height="25" fill="#32cd32"/>
<rect x="108" y="180" width="3" height="6" fill="#32cd32"/>
<rect x="113" y="182" width="1" height="24" fill="#32cd32"/>
<rect x="112" y="187" width="3" height="16" fill="#32cd32"/>
<rect x="117" y="189" width="1" height="16" fill="#32cd32"/>
<rect x="116" y="199" width="3" height="4" fill="#32cd32"/>
<rect x="121" y="189" width="1" height="18" fill="#ff4500"/>
<rect x="120" y="196" width="3" height="8" fill="#ff4500"/>
<rect x="125" y="186" width="1" height="14" fill="#ff4500"/>
<rect x="124" y="190" width="3" height="9" fill="#ff4500"/>
<rect x="129" y="191" width="1" height="23" fill="#32cd32"/>
<rect x="128" y="192" width="3" height="8" fill="#32cd32"/>
<rect x="133" y="193" width="1" height="23" fill="#32cd32"/>
<rect x="132" y="200" width="3" height="12" fill="#32cd32"/>
<rect x="137" y="193" width="1" height="19" fill="#ff4500"/>
<rect x="136" y="196" width="3" height="15" fill="#ff4500"/>
<rect x="141" y="175" width="1" height="21" fill="#ff4500"/>
<rect x="140" y="175" width="3" height="20" fill="#ff4500"/>
<rect x="145" y="173" width="1" height="21" fill="#32cd32"/>
<rect x="144" y="176" width="3" height="18" fill="#32cd32"/>
<rect x="149" y="177" width="1" height="15" fill="#ff4500"/>
<rect x="148" y="177" width="3" height="15" fill="#ff4500"/>
<rect x="153" y="177" width="1" height="15" fill="#32cd32"/>
<rect x="152" y="180" width="3" height="8" fill="#32cd32"/>
<rect x="157" y="189" width="1" height="18" fill="#32cd32"/>
<rect x="156" y="189" width="3" height="14" fill="#32cd32"/>
<rect x="161" y="191" width="1" height="14" fill="#32cd32"/>
<rect x="160" y="200" width="3" height="1" fill="#32cd32"/>
<rect x="165" y="182" width="1" height="18" fill="#ff4500"/>
<rect x="164" y="182" width="3" height="17" fill="#ff4500"/>
<rect x="169" y="180" width="1" height="11" fill="#32cd32"/>
<rect x="168" y="182" width="3" height="5" fill="#32cd32"/>
<rect x="173" y="164" width="1" height="27" fill="#ff4500"/>
<rect x="172" y="170" width="3" height="19" fill="#ff4500"/>
<rect x="177" y="167" width="1" height="10" fill="#32cd32"/>
<rect x="176" y="170" width="3" height="5" fill="#32cd32"/>
<rect x="181" y="164" width="1" height="21" fill="#32cd32"/>
<rect x="180" y="173" width="3" height="8" fill="#32cd32"/>
<rect x="185" y="171" width="1" height="16" fill="#ff4500"/>
<rect x="184" y="174" width="3" height="6" fill="#ff4500"/>
<rect x="189" y="174" width="1" height="27" fill="#32cd32"/>
<rect x="188" y="175" width="3" height="24" fill="#32cd32"/>
<rect x="193" y="181" width="1" height="19" fill="#ff4500"/>
<rect x="192" y="187" width="3" height="7" fill="#ff4500"/>
<rect x="197" y="179" width="1" height="9" fill="#ff4500"/>
<rect x="196" y="183" width="3" height="3" fill="#ff4500"/>
<rect x="201" y="163" width="1" height="17" fill="#ff4500"/>
<rect x="200" y="163" width="3" height="17" fill="#ff4500"/>
<rect x="205" y="148" width="1" height="19" fill="#ff4500"/>
<rect x="204" y="158" width="3" height="6" fill="#ff4500"/>
<rect x="209" y="150" width="1" height="11" fill="#ff4500"/>
<rect x="208" y="154" width="3" height="5" fill="#ff4500"/>
<rect x="213" y="147" width="1" height="10" fill="#ff4500"/>
<rect x="212" y="150" width="3" height="4" fill="#ff4500"/>
<rect x="217" y="142" width="1" height="12" fill="#ff4500"/>
<rect x="216" y="145" width="3" height="6" fill="#ff4500"/>
<rect x="221" y="136" width="1" height="12" fill="#ff4500"/>
<rect x="220" y="138" width="3" height="9" fill="#ff4500"/>
<rect x="225" y="133" width="1" height="8" fill="#ff4500"/>
<rect x="224" y="135" width="3" height="4" fill="#ff4500"/>
<rect x="293" y="108" width="1" height="29" fill="#ff4500"/>
<rect x="292" y="112" width="3" height="15" fill="#ff4500"/>
<rect x="297" y="112" width="1" height="18" fill="#ff4500"/>
<rect x="296" y="114" width="3" height="16" fill="#ff4500"/>
<rect x="301" y="129" width="1" height="33" fill="#32cd32"/>
<rect x="300" y="132" width="3" height="27" fill="#32cd32"/>
<rect x="305" y="132" width="1" height="59" fill="#32cd32"/>
<rect x="304" y="138" width="3" height="52" fill="#32cd32"/>
<rect x="309" y="175" width="1" height="31" fill="#32cd32"/>
<rect x="308" y="190" width="3" height="8" fill="#32cd32"/>
<rect x="313" y="218" width="1" height="67" fill="#32cd32"/>
<rect x="312" y="218" width="3" height="46" fill="#32cd32"/>
<rect x="317" y="228" width="1" height="28" fill="#ff4500"/>
<rect x="316" y="237" width="3" height="16" fill="#ff4500"/>
<rect x="321" y="203" width="1" height="24" fill="#ff4500"/>
<rect x="320" y="221" width="3" height="5" fill="#ff4500"/>
<rect x="325" y="209" width="1" height="12" fill="#ff4500"/>
<rect x="324" y="209" width="3" height="6" fill="#ff4500"/>
<rect x="329" y="185" width="1" height="17" fill="#ff4500"/>
<rect x="328" y="188" width="3" height="5" fill="#ff4500"/>
<rect x="333" y="178" width="1" height="12" fill="#ff4500"/>
<rect x="332" y="180" width="3" height="5" fill="#ff4500"/>
<rect x="337" y="157" width="1" height="23" fill="#ff4500"/>
<rect x="336" y="163" width="3" height="8" fill="#ff4500"/>
<rect x="341" y="158" width="1" height="26" fill="#32cd32"/>
<rect x="340" y="159" width="3" height="25" fill="#32cd32"/>
<rect x="345" y="181" width="1" height="21" fill="#32cd32"/>
<rect x="344" y="190" width="3" height="6" fill="#32cd32"/>
<rect x="349" y="178" width="1" height="27" fill="#ff4500"/>
<rect x="348" y="185" width="3" height="18" fill="#ff4500"/>
<rect x="353" y="186" width="1" height="11" fill="#ff4500"/>
<rect x="352" y="192" width="3" height="4" fill="#ff4500"/>
<rect x="357" y="182" width="1" height="24" fill="#32cd32"/>
<rect x="356" y="187" width="3" height="12" fill="#32cd32"/>
<rect x="361" y="175" width="1" height="28" fill="#ff4500"/>
<rect x="360" y="176" width="3" height="12" fill="#ff4500"/>
<rect x="365" y="173" width="1" height="24" fill="#32cd32"/>
<rect x="364" y="179" width="3" height="15" fill="#32cd32"/>
<rect x="369" y="173" width="1" height="18" fill="#ff4500"/>
<rect x="368" y="175" width="3" height="13" fill="#ff4500"/>
<rect x="373" y="162" width="1" height="15" fill="#ff4500"/>
<rect x="372" y="164" width="3" height="8" fill="#ff4500"/>
<rect x="377" y="152" width="1" height="10" fill="#32cd32"/>
<rect x="376" y="154" width="3" height="6" fill="#32cd32"/>
<rect x="381" y="157" width="1" height="16" fill="#32cd32"/>
<rect x="380" y="158" width="3" height="15" fill="#32cd32"/>
<rect x="385" y="169" width="1" height="9" fill="#32cd32"/>
<rect x="384" y="175" width="3" height="2" fill="#32cd32"/>
<rect x="389" y="168" width="1" height="15" fill="#ff4500"/>
<rect x="388" y="171" width="3" height="11" fill="#ff4500"/>
<rect x="393" y="167" width="1" height="21" fill="#32cd32"/>
<rect x="392" y="171" width="3" height="17" fill="#32cd32"/>
<rect x="397" y="178" width="1" height="17" fill="#ff4500"/>
<rect x="396" y="180" width="3" height="7" fill="#ff4500"/>
<rect x="401" y="175" width="1" height="18" fill="#ff4500"/>
<rect x="400" y="180" width="3" height="7" fill="#ff4500"/>
<rect x="405" y="165" width="1" height="29" fill="#32cd32"/>
<rect x="404" y="172" width="3" height="17" fill="#32cd32"/>
<rect x="409" y="180" width="1" height="27" fill="#32cd32"/>
<rect x="408" y="184" width="3" height="18" fill="#32cd32"/>
<rect x="413" y="231" width="1" height="40" fill="#32cd32"/>
<rect x="412" y="235" width="3" height="19" fill="#32cd32"/>
<rect x="417" y="240" width="1" height="22" fill="#ff4500"/>
<rect x="416" y="241" width="3" height="12" fill="#ff4500"/>
<rect x="421" y="221" width="1" height="19" fill="#32cd32"/>
<rect x="420" y="225" width="3" height="3" fill="#32cd32"/>
<rect x="425" y="230" width="1" height="28" fill="#32cd32"/>
<rect x="424" y="241" width="3" height="15" fill="#32cd32"/>
<rect x="429" y="227" width="1" height="40" fill="#ff4500"/>
<rect x="428" y="231" width="3" height="16" fill="#ff4500"/>
<rect x="433" y="224" width="1" height="13" fill="#32cd32"/>
<rect x="432" y="231" width="3" height="2" fill="#32cd32"/>
<rect x="437" y="217" width="1" height="24" fill="#32cd32"/>
<rect x="436" y="230" width="3" height="11" fill="#32cd32"/>
<rect x="441" y="237" width="1" height="14" fill="#ff4500"/>
<rect x="440" y="241" width="3" height="5" fill="#ff4500"/>
<rect x="445" y="229" width="1" height="21" fill="#32cd32"/>
<rect x="444" y="237" width="3" height="9" fill="#32cd32"/>
<rect x="449" y="236" width="1" height="16" fill="#32cd32"/>
<rect x="448" y="241" width="3" height="4" fill="#32cd32"/>
<rect x="453" y="218" width="1" height="27" fill="#ff4500"/>
<rect x="452" y="218" width="3" height="24" fill="#ff4500"/>
<rect x="457" y="210" width="1" height="11" fill="#32cd32"/>
<rect x="456" y="214" width="3" height="3" fill="#32cd32"/>
<rect x="461" y="214" width="1" height="18" fill="#32cd32"/>
<rect x="460" y="214" width="3" height="16" fill="#32cd32"/>
<rect x="465" y="219" width="1" height="23" fill="#32cd32"/>
<rect x="464" y="222" width="3" height="18" fill="#32cd32"/>
<rect x="469" y="237" width="1" height="27" fill="#32cd32"/>
<rect x="468" y="240" width="3" height="19" fill="#32cd32"/>
<rect x="473" y="252" width="1" height="28" fill="#32cd32"/>
<rect x="472" y="256" width="3" height="22" fill="#32cd32"/>
<rect x="477" y="263" width="1" height="24" fill="#32cd32"/>
<rect x="476" y="264" width="3" height="9" fill="#32cd32"/>
<rect x="481" y="254" width="1" height="21" fill="#ff4500"/>
<rect x="480" y="259" width="3" height="15" fill="#ff4500"/>
<rect x="485" y="259" width="1" height="24" fill="#32cd32"/>
<rect x="484" y="262" width="3" height="18" fill="#32cd32"/>
<rect x="489" y="264" width="1" height="22" fill="#ff4500"/>
<rect x="488" y="274" width="3" height="5" fill="#ff4500"/>
<rect x="493" y="244" width="1" height="27" fill="#ff4500"/>
<rect x="492" y="246" width="3" height="25" fill="#ff4500"/>
<rect x="497" y="248" width="1" height="9" fill="#32cd32"/>
<rect x="496" y="251" width="3" height="3" fill="#32cd32"/>
<rect x="501" y="248" width="1" height="33" fill="#32cd32"/>
<rect x="500" y="251" width="3" height="28" fill="#32cd32"/>
<rect x="505" y="270" width="1" height="19" fill="#32cd32"/>
<rect x="504" y="272" width="3" height="3" fill="#32cd32"/>
<rect x="509" y="262" width="1" height="18" fill="#32cd32"/>
<rect x="508" y="268" width="3" height="4" fill="#32cd32"/>
<rect x="513" y="257" width="1" height="25" fill="#ff4500"/>
<rect x="512" y="262" width="3" height="13" fill="#ff4500"/>
<rect x="517" y="259" width="1" height="13" fill="#32cd32"/>
<rect x="516" y="263" width="3" height="7" fill="#32cd32"/>
<rect x="521" y="247" width="1" height="23" fill="#ff4500"/>
<rect x="520" y="249" width="3" height="14" fill="#ff4500"/>
<rect x="525" y="229" width="1" height="20" fill="#ff4500"/>
<rect x="524" y="233" width="3" height="14" fill="#ff4500"/>
<rect x="529" y="233" width="1" height="9" fill="#32cd32"/>
<rect x="528" y="233" width="3" height="4" fill="#32cd32"/>
<rect x="533" y="227" width="1" height="12" fill="#ff4500"/>
<rect x="532" y="227" width="3" height="5" fill="#ff4500"/>
<rect x="537" y="224" width="1" height="12" fill="#32cd32"/>
<rect x="536" y="224" width="3" height="11" fill="#32cd32"/>
<rect x="541" y="219" width="1" height="12" fill="#ff4500"/>
<rect x="540" y="222" width="3" height="8" fill="#ff4500"/>
<rect x="545" y="219" width="1" height="11" fill="#ff4500"/>
<rect x="544" y="219" width="3" height="2" fill="#ff4500"/>
<rect x="549" y="219" width="1" height="13" fill="#32cd32"/>
<rect x="548" y="223" width="3" height="6" fill="#32cd32"/>
<rect x="553" y="232" width="1" height="14" fill="#32cd32"/>
<rect x="552" y="234" width="3" height="12" fill="#32cd32"/>
<rect x="557" y="226" width="1" height="23" fill="#ff4500"/>
<rect x="556" y="226" width="3" height="19" fill="#ff4500"/>
<rect x="561" y="213" width="1" height="14" fill="#32cd32"/>
<rect x="560" y="217" width="3" height="9" fill="#32cd32"/>
<rect x="565" y="223" width="1" height="15" fill="#32cd32"/>
<rect x="564" y="224" width="3" height="5" fill="#32cd32"/>
<rect x="569" y="232" width="1" height="16" fill="#32cd32"/>
<rect x="568" y="232" width="3" height="16" fill="#32cd32"/>
<rect x="573" y="242" width="1" height="16" fill="#32cd32"/>
<rect x="572" y="245" width="3" height="12" fill="#32cd32"/>
<rect x="577" y="250" width="1" height="14" fill="#32cd32"/>
<rect x="576" y="255" width="3" height="7" fill="#32cd32"/>
<rect x="581" y="245" width="1" height="17" fill="#ff4500"/>
<rect x="580" y="252" width="3" height="8" fill="#ff4500"/>
<rect x="585" y="250" width="1" height="17" fill="#32cd32"/>
<rect x="584" y="255" width="3" height="12" fill="#32cd32"/>
<rect x="589" y="274" width="1" height="16" fill="#32cd32"/>
<rect x="588" y="279" width="3" height="11" fill="#32cd32"/>
<rect x="593" y="262" width="1" height="21" fill="#ff4500"/>
<rect x="592" y="263" width="3" height="20" fill="#ff4500"/>
<rect x="597" y="265" width="1" height="16" fill="#32cd32"/>
<rect x="596" y="265" width="3" height="9" fill="#32cd32"/>
<rect x="601" y="258" width="1" height="13" fill="#ff4500"/>
<rect x="600" y="262" width="3" height="5" fill="#ff4500"/>
<rect x="605" y="249" width="1" height="15" fill="#ff4500"/>
<rect x="604" y="251" width="3" height="11" fill="#ff4500"/>
<rect x="609" y="249" width="1" height="7" fill="#ff4500"/>
<rect x="608" y="251" width="3" height="1" fill="#ff4500"/>
<rect x="613" y="241" width="1" height="15" fill="#32cd32"/>
<rect x="612" y="246" width="3" height="8" fill="#32cd32"/>
<rect x="617" y="255" width="1" height="21" fill="#32cd32"/>
<rect x="616" y="256" width="3" height="15" fill="#32cd32"/>
<rect x="621" y="261" width="1" height="14" fill="#ff4500"/>
<rect x="620" y="266" width="3" height="7" fill="#ff4500"/>
<rect x="625" y="247" width="1" height="24" fill="#ff4500"/>
<rect x="624" y="251" width="3" height="15" fill="#ff4500"/>
<rect x="629" y="253" width="1" height="14" fill="#32cd32"/>
<rect x="628" y="257" width="3" height="8" fill="#32cd32"/>
<rect x="633" y="267" width="1" height="17" fill="#ff4500"/>
<rect x="632" y="278" width="3" height="3" fill="#ff4500"/>
<rect x="637" y="273" width="1" height="15" fill="#32cd32"/>
<rect x="636" y="280" width="3" height="4" fill="#32cd32"/>
<rect x="641" y="295" width="1" height="52" fill="#32cd32"/>
<rect x="640" y="297" width="3" height="33" fill="#32cd32"/>
<rect x="645" y="314" width="1" height="23" fill="#ff4500"/>
<rect x="644" y="321" width="3" height="10" fill="#ff4500"/>
<rect x="649" y="308" width="1" height="32" fill="#32cd32"/>
<rect x="648" y="320" width="3" height="18" fill="#32cd32"/>
<rect x="653" y="326" width="1" height="21" fill="#ff4500"/>
<rect x="652" y="329" width="3" height="14" fill="#ff4500"/>
<rect x="657" y="322" width="1" height="28" fill="#32cd32"/>
<rect x="656" y="325" width="3" height="25" fill="#32cd32"/>
<rect x="661" y="345" width="1" height="24" fill="#32cd32"/>
<rect x="660" y="353" width="3" height="2" fill="#32cd32"/>
<rect x="665" y="349" width="1" height="38" fill="#32cd32"/>
<rect x="664" y="354" width="3" height="32" fill="#32cd32"/>
<rect x="669" y="367" width="1" height="25" fill="#32cd32"/>
<rect x="668" y="386" width="3" height="3" fill="#32cd32"/>
<rect x="673" y="354" width="1" height="31" fill="#ff4500"/>
<rect x="672" y="358" width="3" height="26" fill="#ff4500"/>
<rect x="677" y="359" width="1" height="49" fill="#32cd32"/>
<rect x="676" y="360" width="3" height="36" fill="#32cd32"/>
<rect x="681" y="385" width="1" height="37" fill="#32cd32"/>
<rect x="680" y="389" width="3" height="5" fill="#32cd32"/>
<rect x="685" y="387" width="1" height="22" fill="#32cd32"/>
<rect x="684" y="395" width="3" height="9" fill="#32cd32"/>
<rect x="689" y="392" width="1" height="23" fill="#32cd32"/>
<rect x="688" y="404" width="3" height="9" fill="#32cd32"/>
<rect x="693" y="390" width="1" height="31" fill="#ff4500"/>
<rect x="692" y="404" width="3" height="5" fill="#ff4500"/>
<rect x="697" y="369" width="1" height="28" fill="#ff4500"/>
<rect x="696" y="370" width="3" height="27" fill="#ff4500"/>
<rect x="701" y="365" width="1" height="15" fill="#32cd32"/>
<rect x="700" y="367" width="3" height="2" fill="#32cd32"/>
<rect x="705" y="381" width="1" height="19" fill="#ff4500"/>
<rect x="704" y="388" width="3" height="5" fill="#ff4500"/>
<rect x="709" y="352" width="1" height="34" fill="#ff4500"/>
<rect x="708" y="358" width="3" height="28" fill="#ff4500"/>
<rect x="713" y="354" width="1" height="9" fill="#32cd32"/>
<rect x="712" y="355" width="3" height="4" fill="#32cd32"/>
<rect x="717" y="349" width="1" height="20" fill="#32cd32"/>
<rect x="716" y="356" width="3" height="9" fill="#32cd32"/>
<rect x="721" y="361" width="1" height="20" fill="#32cd32"/>
<rect x="720" y="362" width="3" height="8" fill="#32cd32"/>
<rect x="725" y="357" width="1" height="19" fill="#32cd32"/>
<rect x="724" y="364" width="3" height="11" fill="#32cd32"/>
<rect x="729" y="360" width="1" height="27" fill="#32cd32"/>
<rect x="728" y="378" width="3" height="4" fill="#32cd32"/>
<rect x="733" y="352" width="1" height="39" fill="#ff4500"/>
<rect x="732" y="356" width="3" height="26" fill="#ff4500"/>
<rect x="737" y="345" width="1" height="20" fill="#ff4500"/>
<rect x="736" y="348" width="3" height="15" fill="#ff4500"/>
<rect x="741" y="322" width="1" height="24" fill="#ff4500"/>
<rect x="740" y="328" width="3" height="18" fill="#ff4500"/>
<rect x="745" y="324" width="1" height="10" fill="#32cd32"/>
<rect x="744" y="324" width="3" height="6" fill="#32cd32"/>
<rect x="749" y="325" width="1" height="21" fill="#32cd32"/>
<rect x="748" y="327" width="3" height="17" fill="#32cd32"/>
<rect x="753" y="338" width="1" height="12" fill="#32cd32"/>
<rect x="752" y="341" width="3" height="5" fill="#32cd32"/>
<rect x="757" y="336" width="1" height="20" fill="#32cd32"/>
<rect x="756" y="344" width="3" height="7" fill="#32cd32"/>
<rect x="761" y="341" width="1" height="14" fill="#ff4500"/>
<rect x="760" y="347" width="3" height="4" fill="#ff4500"/>
<rect x="765" y="335" width="1" height="43" fill="#32cd32"/>
<rect x="764" y="341" width="3" height="35" fill="#32cd32"/>
<rect x="769" y="375" width="1" height="39" fill="#32cd32"/>
<rect x="768" y="377" width="3" height="23" fill="#32cd32"/>
<rect x="773" y="395" width="1" height="28" fill="#32cd32"/>
<rect x="772" y="398" width="3" height="21" fill="#32cd32"/>
<rect x="777" y="404" width="1" height="28" fill="#32cd32"/>
<rect x="776" y="415" width="3" height="12" fill="#32cd32"/>
<rect x="781" y="393" width="1" height="34" fill="#ff4500"/>
<rect x="780" y="395" width="3" height="24" fill="#ff4500"/>
<rect x="785" y="396" width="1" height="23" fill="#32cd32"/>
<rect x="784" y="396" width="3" height="16" fill="#32cd32"/>
<rect x="789" y="379" width="1" height="38" fill="#ff4500"/>
<rect x="788" y="386" width="3" height="30" fill="#ff4500"/>
<rect x="793" y="377" width="1" height="16" fill="#ff4500"/>
<rect x="792" y="383" width="3" height="3" fill="#ff4500"/>
<rect x="797" y="382" width="1" height="25" fill="#ff4500"/>
<rect x="796" y="388" width="3" height="6" fill="#ff4500"/>
<rect x="801" y="385" width="1" height="15" fill="#32cd32"/>
<rect x="800" y="386" width="3" height="7" fill="#32cd32"/>
<rect x="805" y="391" width="1" height="30" fill="#32cd32"/>
<rect x="804" y="392" width="3" height="27" fill="#32cd32"/>
<rect x="809" y="411" width="1" height="34" fill="#ff4500"/>
<rect x="808" y="429" width="3" height="8" fill="#ff4500"/>
<rect x="813" y="415" width="1" height="33" fill="#32cd32"/>
<rect x="812" y="417" width="3" height="27" fill="#32cd32"/>
<rect x="817" y="427" width="1" height="18" fill="#ff4500"/>
<rect x="816" y="428" width="3" height="13" fill="#ff4500"/>
<rect x="821" y="404" width="1" height="25" fill="#ff4500"/>
<rect x="820" y="413" width="3" height="14" fill="#ff4500"/>
<rect x="825" y="411" width="1" height="9" fill="#32cd32"/>
<rect x="824" y="413" width="3" height="1" fill="#32cd32"/>
<rect x="829" y="403" width="1" height="23" fill="#32cd32"/>
<rect x="828" y="411" width="3" height="2" fill="#32cd32"/>
<rect x="833" y="400" width="1" height="22" fill="#ff4500"/>
<rect x="832" y="410" width="3" height="7" fill="#ff4500"/>
<rect x="837" y="382" width="1" height="24" fill="#ff4500"/>
<rect x="836" y="383" width="3" height="22" fill="#ff4500"/>
<rect x="841" y="378" width="1" height="11" fill="#32cd32"/>
<rect x="840" y="381" width="3" height="6" fill="#32cd32"/>
<rect x="845" y="386" width="1" height="7" fill="#32cd32"/>
<rect x="844" y="387" width="3" height="2" fill="#32cd32"/>
<rect x="849" y="384" width="1" height="19" fill="#32cd32"/>
<rect x="848" y="388" width="3" height="12" fill="#32cd32"/>
<rect x="853" y="397" width="1" height="18" fill="#32cd32"/>
<rect x="852" y="405" width="3" height="1" fill="#32cd32"/>
<rect x="857" y="406" width="1" height="15" fill="#ff4500"/>
<rect x="856" y="410" width="3" height="1" fill="#ff4500"/>
<rect x="861" y="390" width="1" height="25" fill="#ff4500"/>
<rect x="860" y="395" width="3" height="15" fill="#ff4500"/>
<rect x="865" y="398" width="1" height="23" fill="#32cd32"/>
<rect x="864" y="399" width="3" height="22" fill="#32cd32"/>
<rect x="869" y="411" width="1" height="21" fill="#32cd32"/>
<rect x="868" y="421" width="3" height="9" fill="#32cd32"/>
<rect x="873" y="408" width="1" height="25" fill="#ff4500"/>
<rect x="872" y="421" width="3" height="3" fill="#ff4500"/>
<rect x="877" y="421" width="1" height="18" fill="#32cd32"/>
<rect x="876" y="423" width="3" height="14" fill="#32cd32"/>
<rect x="881" y="429" width="1" height="15" fill="#32cd32"/>
<rect x="880" y="435" width="3" height="4" fill="#32cd32"/>
<rect x="885" y="436" width="1" height="12" fill="#32cd32"/>
<rect x="884" y="440" width="3" height="6" fill="#32cd32"/>
<rect x="889" y="430" width="1" height="20" fill="#32cd32"/>
<rect x="888" y="436" width="3" height="1" fill="#32cd32"/>
<rect x="893" y="431" width="1" height="9" fill="#32cd32"/>
<rect x="892" y="434" width="3" height="2" fill="#32cd32"/>
<rect x="897" y="440" width="1" height="9" fill="#32cd32"/>
<rect x="896" y="440" width="3" height="7" fill="#32cd32"/>
<rect x="901" y="423" width="1" height="27" fill="#ff4500"/>
<rect x="900" y="426" width="3" height="23" fill="#ff4500"/>
<rect x="905" y="403" width="1" height="25" fill="#ff4500"/>
<rect x="904" y="412" width="3" height="15" fill="#ff4500"/>
<rect x="909" y="404" width="1" height="9" fill="#32cd32"/>
<rect x="908" y="408" width="3" height="2" fill="#32cd32"/>
<rect x="913" y="373" width="1" height="37" fill="#ff4500"/>
<rect x="912" y="373" width="3" height="34" fill="#ff4500"/>
<rect x="917" y="382" width="1" height="11" fill="#32cd32"/>
<rect x="916" y="384" width="3" height="2" fill="#32cd32"/>
<rect x="921" y="364" width="1" height="22" fill="#ff4500"/>
<rect x="920" y="375" width="3" height="6" fill="#ff4500"/>
<rect x="925" y="373" width="1" height="10" fill="#32cd32"/>
<rect x="924" y="377" width="3" height="1" fill="#32cd32"/>
<rect x="929" y="364" width="1" height="14" fill="#ff4500"/>
<rect x="928" y="367" width="3" height="7" fill="#ff4500"/>
<rect x="933" y="390" width="1" height="29" fill="#32cd32"/>
<rect x="932" y="392" width="3" height="26" fill="#32cd32"/>
<rect x="937" y="409" width="1" height="12" fill="#32cd32"/>
<rect x="936" y="414" width="3" height="4" fill="#32cd32"/>
<rect x="941" y="406" width="1" height="21" fill="#32cd32"/>
<rect x="940" y="414" width="3" height="2" fill="#32cd32"/>
<rect x="945" y="439" width="1" height="39" fill="#32cd32"/>
<rect x="944" y="448" width="3" height="26" fill="#32cd32"/>
<rect x="949" y="448" width="1" height="28" fill="#ff4500"/>
<rect x="948" y="453" width="3" height="14" fill="#ff4500"/>
<rect x="953" y="448" width="1" height="23" fill="#32cd32"/>
<rect x="952" y="454" width="3" height="15" fill="#32cd32"/>
<rect x="957" y="453" width="1" height="25" fill="#32cd32"/>
<rect x="956" y="464" width="3" height="9" fill="#32cd32"/>
<rect x="961" y="457" width="1" height="29" fill="#32cd32"/>
<rect x="960" y="458" width="3" height="11" fill="#32cd32"/>
<rect x="965" y="472" width="1" height="19" fill="#32cd32"/>
<rect x="964" y="472" width="3" height="18" fill="#32cd32"/>
<rect x="969" y="459" width="1" height="40" fill="#ff4500"/>
<rect x="968" y="466" width="3" height="28" fill="#ff4500"/>
<rect x="973" y="411" width="1" height="47" fill="#ff4500"/>
<rect x="972" y="417" width="3" height="41" fill="#ff4500"/>
<rect x="977" y="416" width="1" height="41" fill="#32cd32"/>
<rect x="976" y="418" width="3" height="34" fill="#32cd32"/>
<rect x="981" y="427" width="1" height="26" fill="#ff4500"/>
<rect x="980" y="448" width="3" height="3" fill="#ff4500"/>
<rect x="985" y="441" width="1" height="34" fill="#ff4500"/>
<rect x="984" y="443" width="3" height="28" fill="#ff4500"/>
<rect x="989" y="434" width="1" height="28" fill="#32cd32"/>
<rect x="988" y="441" width="3" height="15" fill="#32cd32"/>
<rect x="993" y="451" width="1" height="39" fill="#32cd32"/>
<rect x="992" y="454" width="3" height="29" fill="#32cd32"/>
<rect x="997" y="458" width="1" height="31" fill="#ff4500"/>
<rect x="996" y="471" width="3" height="12" fill="#ff4500"/>
<rect x="1001" y="450" width="1" height="23" fill="#ff4500"/>
<rect x="1000" y="459" width="3" height="9" fill="#ff4500"/>
<rect x="1005" y="435" width="1" height="19" fill="#32cd32"/>
<rect x="1004" y="445" width="3" height="8" fill="#32cd32"/>
<rect x="1009" y="411" width="1" height="25" fill="#ff4500"/>
<rect x="1008" y="411" width="3" height="14" fill="#ff4500"/>
<rect x="1013" y="417" width="1" height="19" fill="#32cd32"/>
<rect x="1012" y="420" width="3" height="5" fill="#32cd32"/>
<rect x="1017" y="425" width="1" height="16" fill="#32cd32"/>
<rect x="1016" y="426" width="3" height="5" fill="#32cd32"/>
<rect x="1021" y="419" width="1" height="24" fill="#32cd32"/>
<rect x="1020" y="427" width="3" height="14" fill="#32cd32"/>
<rect x="1025" y="427" width="1" height="16" fill="#32cd32"/>
<rect x="1024" y="428" width="3" height="12" fill="#32cd32"/>
<rect x="1029" y="444" width="1" height="11" fill="#32cd32"/>
<rect x="1028" y="446" width="3" height="9" fill="#32cd32"/>
<rect x="1033" y="440" width="1" height="17" fill="#ff4500"/>
<rect x="1032" y="443" width="3" height="11" fill="#ff4500"/>
<rect x="1037" y="424" width="1" height="32" fill="#ff4500"/>
<rect x="1036" y="432" width="3" height="24" fill="#ff4500"/>
<rect x="1041" y="430" width="1" height="17" fill="#32cd32"/>
<rect x="1040" y="432" width="3" height="12" fill="#32cd32"/>
<rect x="1045" y="428" width="1" height="17" fill="#ff4500"/>
<rect x="1044" y="429" width="3" height="13" fill="#ff4500"/>
<rect x="1049" y="415" width="1" height="22" fill="#ff4500"/>
<rect x="1048" y="426" width="3" height="4" fill="#ff4500"/>
<rect x="1053" y="414" width="1" height="14" fill="#ff4500"/>
<rect x="1052" y="414" width="3" height="10" fill="#ff4500"/>
<rect x="1057" y="419" width="1" height="23" fill="#32cd32"/>
<rect x="1056" y="420" width="3" height="18" fill="#32cd32"/>
<rect x="1061" y="433" width="1" height="15" fill="#ff4500"/>
<rect x="1060" y="437" width="3" height="11" fill="#ff4500"/>
<rect x="1065" y="434" width="1" height="14" fill="#32cd32"/>
<rect x="1064" y="434" width="3" height="8" fill="#32cd32"/>
<rect x="1069" y="441" width="1" height="25" fill="#32cd32"/>
<rect x="1068" y="442" width="3" height="23" fill="#32cd32"/>
<rect x="1073" y="455" width="1" height="15" fill="#32cd32"/>
<rect x="1072" y="461" width="3" height="5" fill="#32cd32"/>
<rect x="1077" y="458" width="1" height="14" fill="#32cd32"/>
<rect x="1076" y="462" width="3" height="5" fill="#32cd32"/>
<rect x="1081" y="450" width="1" height="20" fill="#ff4500"/>
<rect x="1080" y="453" width="3" height="14" fill="#ff4500"/>
<rect x="1085" y="445" width="1" height="22" fill="#32cd32"/>
<rect x="1084" y="446" width="3" height="19" fill="#32cd32"/>
<rect x="1089" y="450" width="1" height="16" fill="#ff4500"/>
<rect x="1088" y="454" width="3" height="11" fill="#ff4500"/>
<rect x="1093" y="417" width="1" height="18" fill="#32cd32"/>
<rect x="1092" y="424" width="3" height="2" fill="#32cd32"/>
<rect x="1097" y="421" width="1" height="10" fill="#ff4500"/>
<rect x="1096" y="422" width="3" height="7" fill="#ff4500"/>
<rect x="1101" y="420" width="1" height="15" fill="#ff4500"/>
<rect x="1100" y="427" width="3" height="8" fill="#ff4500"/>
<rect x="1105" y="436" width="1" height="15" fill="#32cd32"/>
<rect x="1104" y="437" width="3" height="12" fill="#32cd32"/>
<rect x="1109" y="445" width="1" height="6" fill="#32cd32"/>
<rect x="1108" y="445" width="3" height="6" fill="#32cd32"/>
<rect x="1113" y="452" width="1" height="13" fill="#32cd32"/>
<rect x="1112" y="456" width="3" height="5" fill="#32cd32"/>
<rect x="1117" y="454" width="1" height="8" fill="#ff4500"/>
<rect x="1116" y="455" width="3" height="4" fill="#ff4500"/>
<rect x="1121" y="448" width="1" height="9" fill="#32cd32"/>
<rect x="1120" y="450" width="3" height="4" fill="#32cd32"/>
<rect x="1125" y="430" width="1" height="22" fill="#ff4500"/>
<rect x="1124" y="436" width="3" height="14" fill="#ff4500"/>
<rect x="1129" y="438" width="1" height="17" fill="#32cd32"/>
<rect x="1128" y="438" width="3" height="16" fill="#32cd32"/>
<rect x="1133" y="450" width="1" height="12" fill="#ff4500"/>
<rect x="1132" y="453" width="3" height="3" fill="#ff4500"/>
<rect x="1137" y="451" width="1" height="20" fill="#32cd32"/>
<rect x="1136" y="458" width="3" height="9" fill="#32cd32"/>
<rect x="1141" y="463" width="1" height="16" fill="#32cd32"/>
<rect x="1140" y="465" width="3" height="14" fill="#32cd32"/>
<rect x="1145" y="474" width="1" height="19" fill="#32cd32"/>
<rect x="1144" y="477" width="3" height="7" fill="#32cd32"/>
<rect x="1149" y="485" width="1" height="21" fill="#32cd32"/>
<rect x="1148" y="485" width="3" height="12" fill="#32cd32"/>
<rect x="1153" y="492" width="1" height="13" fill="#ff4500"/>
<rect x="1152" y="495" width="3" height="6" fill="#ff4500"/>
<rect x="1157" y="495" width="1" height="26" fill="#ff4500"/>
<rect x="1156" y="500" width="3" height="5" fill="#ff4500"/>
<rect x="1161" y="497" width="1" height="14" fill="#32cd32"/>
<rect x="1160" y="501" width="3" height="5" fill="#32cd32"/>
<rect x="1165" y="491" width="1" height="20" fill="#32cd32"/>
<rect x="1164" y="493" width="3" height="15" fill="#32cd32"/>
<rect x="1169" y="495" width="1" height="14" fill="#32cd32"/>
<rect x="1168" y="505" width="3" height="4" fill="#32cd32"/>
<rect x="1173" y="508" width="1" height="1" fill="#000"/>
<rect x="1172" y="508" width="3" height="1" fill="#000"/>
<rect x="1177" y="502" width="1" height="21" fill="#32cd32"/>
<rect x="1176" y="502" width="3" height="17" fill="#32cd32"/>
<rect x="1181" y="504" width="1" height="18" fill="#ff4500"/>
<rect x="1180" y="518" width="3" height="2" fill="#ff4500"/>
<rect x="1185" y="493" width="1" height="32" fill="#ff4500"/>
<rect x="1184" y="493" width="3" height="30" fill="#ff4500"/>
<rect x="1189" y="486" width="1" height="11" fill="#32cd32"/>
<rect x="1188" y="490" width="3" height="2" fill="#32cd32"/>
<rect x="1193" y="489" width="1" height="6" fill="#ff4500"/>
<rect x="1192" y="491" width="3" height="1" fill="#ff4500"/>
<rect x="1197" y="467" width="1" height="20" fill="#ff4500"/>
<rect x="1196" y="484" width="3" height="2" fill="#ff4500"/>
<rect x="1201" y="476" width="1" height="13" fill="#ff4500"/>
<rect x="1200" y="482" width="3" height="5" fill="#ff4500"/>
<rect x="1205" y="472" width="1" height="13" fill="#ff4500"/>
<rect x="1204" y="475" width="3" height="6" fill="#ff4500"/>
<rect x="1209" y="474" width="1" height="16" fill="#ff4500"/>
<rect x="1208" y="484" width="3" height="5" fill="#ff4500"/>
<rect x="1213" y="464" width="1" height="21" fill="#ff4500"/>
<rect x="1212" y="466" width="3" height="17" fill="#ff4500"/>
<rect x="1217" y="464" width="1" height="7" fill="#ff4500"/>
<rect x="1216" y="466" width="3" height="2" fill="#ff4500"/>
<rect x="1221" y="460" width="1" height="12" fill="#32cd32"/>
<rect x="1220" y="465" width="3" height="6" fill="#32cd32"/>
<rect x="1225" y="450" width="1" height="18" fill="#ff4500"/>
<rect x="1224" y="454" width="3" height="13" fill="#ff4500"/>
<rect x="1229" y="442" width="1" height="12" fill="#ff4500"/>
<rect x="1228" y="448" width="3" height="5" fill="#ff4500"/>
<rect x="1233" y="449" width="1" height="15" fill="#32cd32"/>
<rect x="1232" y="450" width="3" height="12" fill="#32cd32"/>
<rect x="1237" y="455" width="1" height="11" fill="#32cd32"/>
<rect x="1236" y="462" width="3" height="2" fill="#32cd32"/>
<rect x="1241" y="452" width="1" height="17" fill="#ff4500"/>
<rect x="1240" y="455" width="3" height="6" fill="#ff4500"/>
<rect x="1245" y="441" width="1" height="13" fill="#ff4500"/>
<rect x="1244" y="448" width="3" height="6" fill="#ff4500"/>
<rect x="1249" y="432" width="1" height="20" fill="#32cd32"/>
<rect x="1248" y="441" width="3" height="8" fill="#32cd32"/>
<rect x="1253" y="441" width="1" height="17" fill="#ff4500"/>
<rect x="1252" y="444" width="3" height="7" fill="#ff4500"/>
<rect x="1257" y="441" width="1" height="11" fill="#32cd32"/>
<rect x="1256" y="449" width="3" height="3" fill="#32cd32"/>
<rect x="1261" y="437" width="1" height="13" fill="#ff4500"/>
<rect x="1260" y="442" width="3" height="6" fill="#ff4500"/>
<rect x="1265" y="424" width="1" height="18" fill="#ff4500"/>
<rect x="1264" y="424" width="3" height="12" fill="#ff4500"/>
<rect x="1269" y="408" width="1" height="21" fill="#ff4500"/>
<rect x="1268" y="410" width="3" height="17" fill="#ff4500"/>
<rect x="1273" y="401" width="1" height="12" fill="#ff4500"/>
<rect x="1272" y="404" width="3" height="5" fill="#ff4500"/>
<rect x="1277" y="375" width="1" height="29" fill="#ff4500"/>
<rect x="1276" y="381" width="3" height="22" fill="#ff4500"/>
<rect x="1281" y="373" width="1" height="12" fill="#ff4500"/>
<rect x="1280" y="378" width="3" height="3" fill="#ff4500"/>
<rect x="1285" y="379" width="1" height="21" fill="#32cd32"/>
<rect x="1284" y="380" width="3" height="17" fill="#32cd32"/>
<rect x="1289" y="365" width="1" height="25" fill="#ff4500"/>
<rect x="1288" y="367" width="3" height="23" fill="#ff4500"/>
<rect x="1293" y="356" width="1" height="20" fill="#32cd32"/>
<rect x="1292" y="365" width="3" height="6" fill="#32cd32"/>
<rect x="1297" y="361" width="1" height="14" fill="#32cd32"/>
<rect x="1296" y="365" width="3" height="3" fill="#32cd32"/>
<rect x="1301" y="350" width="1" height="24" fill="#000"/>
<rect x="1300" y="367" width="3" height="1" fill="#000"/>
<rect x="1305" y="339" width="1" height="37" fill="#ff4500"/>
<rect x="1304" y="339" width="3" height="29" fill="#ff4500"/>
</g>
<path d="M5 558h1v9h-1zM9 558h1v9h-1zM13 557h1v10h-1zM17 557h1v10h-1zM21 557h1v10h-1zM25 556h1v11h-1zM29 556h1v11h-1zM33 556h1v11h-1zM37 556h1v11h-1zM41 555h1v12h-1zM45 555h1v12h-1zM49 555h1v12h-1zM53 554h1v13h-1zM57 554h1v13h-1zM61 554h1v13h-1zM65 553h1v14h-1zM69 553h1v14h-1zM73 552h1v15h-1zM77 552h1v15h-1zM81 551h1v16h-1zM85 551h1v16h-1zM89 552h1v15h-1zM93 552h1v15h-1zM97 553h1v14h-1zM101 554h1v13h-1zM105 556h1v11h-1zM109 559h1v8h-1zM113 561h1v6h-1zM117 563h1v4h-1zM121 565h1v2h-1zM125 566h1v1h-1zM129 566h1v1h-1zM133 566h1v2h-1zM137 566h1v2h-1zM141 566h1v1h-1zM145 566h1v1h-1zM149 566h1v1h-1zM153 566h1v1h-1zM157 566h1v1h-1zM161 566h1v1h-1zM165 566h1v1h-1zM169 566h1v1h-1zM173 566h1v1h-1zM177 566h1v1h-1zM181 566h1v1h-1zM185 566h1v1h-1zM189 566h1v1h-1zM193 566h1v1h-1zM197 566h1v1h-1zM201 565h1v2h-1zM205 564h1v3h-1zM209 562h1v5h-1zM213 561h1v6h-1zM217 560h1v7h-1zM221 558h1v9h-1zM225 557h1v10h-1zM229 556h1v11h-1zM233 555h1v12h-1zM237 554h1v13h-1zM241 553h1v14h-1zM245 552h1v15h-1zM249 552h1v15h-1zM253 551h1v16h-1zM257 550h1v17h-1zM261 548h1v19h-1zM265 546h1v21h-1zM269 546h1v21h-1zM273 545h1v22h-1zM277 545h1v22h-1zM281 548h1v19h-1zM285 551h1v16h-1zM289 552h1v15h-1zM293 555h1v12h-1zM297 557h1v10h-1zM301 560h1v7h-1zM305 565h1v2h-1zM309 566h1v2h-1zM313 566h1v10h-1zM317 566h1v15h-1zM321 566h1v17h-1zM325 566h1v19h-1zM329 566h1v18h-1zM333 566h1v17h-1zM337 566h1v14h-1zM341 566h1v13h-1zM345 566h1v13h-1zM349 566h1v12h-1zM353 566h1v12h-1zM357 566h1v11h-1zM361 566h1v11h-1zM365 566h1v10h-1zM369 566h1v9h-1zM373 566h1v7h-1zM377 566h1v5h-1zM381 566h1v4h-1zM385 566h1v4h-1zM389 566h1v4h-1zM393 566h1v3h-1zM397 566h1v4h-1zM401 566h1v4h-1zM405 566h1v4h-1zM409 566h1v5h-1zM413 566h1v9h-1zM417 566h1v12h-1zM421 566h1v13h-1zM425 566h1v14h-1zM429 566h1v15h-1zM433 566h1v15h-1zM437 566h1v15h-1zM441 566h1v15h-1zM445 566h1v14h-1zM449 566h1v14h-1zM453 566h1v13h-1zM457 566h1v12h-1zM461 566h1v11h-1zM465 566h1v11h-1zM469 566h1v13h-1zM473 566h1v14h-1zM477 566h1v15h-1zM481 566h1v15h-1zM485 566h1v16h-1zM489 566h1v16h-1zM493 566h1v15h-1zM497 566h1v14h-1zM501 566h1v14h-1zM505 566h1v13h-1zM509 566h1v13h-1zM513 566h1v13h-1zM517 566h1v12h-1zM521 566h1v11h-1zM525 566h1v8h-1zM529 566h1v6h-1zM533 566h1v4h-1zM537 566h1v3h-1zM541 566h1v1h-1zM545 566h1v1h-1zM549 565h1v2h-1zM553 566h1v1h-1zM557 565h1v2h-1zM561 564h1v3h-1zM565 564h1v3h-1zM569 565h1v2h-1zM573 565h1v2h-1zM577 565h1v2h-1zM581 566h1v1h-1zM585 566h1v1h-1zM589 566h1v5h-1zM593 566h1v5h-1zM597 566h1v6h-1zM601 566h1v4h-1zM605 566h1v4h-1zM609 566h1v4h-1zM613 566h1v4h-1zM617 566h1v4h-1zM621 566h1v4h-1zM625 566h1v4h-1zM629 566h1v4h-1zM633 566h1v5h-1zM637 566h1v6h-1zM641 566h1v10h-1zM645 566h1v12h-1zM649 566h1v14h-1zM653 566h1v16h-1zM657 566h1v18h-1zM661 566h1v20h-1zM665 566h1v23h-1zM669 566h1v25h-1zM673 566h1v25h-1zM677 566h1v27h-1zM681 566h1v29h-1zM685 566h1v30h-1zM689 566h1v31h-1zM693 566h1v31h-1zM697 566h1v28h-1zM701 566h1v26h-1zM705 566h1v25h-1zM709 566h1v23h-1zM713 566h1v20h-1zM717 566h1v18h-1zM721 566h1v17h-1zM725 566h1v15h-1zM729 566h1v14h-1zM733 566h1v13h-1zM737 566h1v11h-1zM741 566h1v8h-1zM745 566h1v5h-1zM749 566h1v3h-1zM753 566h1v3h-1zM757 566h1v2h-1zM761 566h1v2h-1zM765 566h1v2h-1zM769 566h1v5h-1zM773 566h1v8h-1zM777 566h1v11h-1zM781 566h1v12h-1zM785 566h1v13h-1zM789 566h1v12h-1zM793 566h1v11h-1zM797 566h1v11h-1zM801 566h1v11h-1zM805 566h1v11h-1zM809 566h1v13h-1zM813 566h1v15h-1zM817 566h1v15h-1zM821 566h1v15h-1zM825 566h1v14h-1zM829 566h1v13h-1zM833 566h1v12h-1zM837 566h1v10h-1zM841 566h1v8h-1zM845 566h1v6h-1zM849 566h1v5h-1zM853 566h1v5h-1zM857 566h1v6h-1zM861 566h1v5h-1zM865 566h1v6h-1zM869 566h1v7h-1zM873 566h1v8h-1zM877 566h1v8h-1zM881 566h1v9h-1zM885 566h1v10h-1zM889 566h1v10h-1zM893 566h1v10h-1zM897 566h1v11h-1zM901 566h1v11h-1zM905 566h1v9h-1zM909 566h1v7h-1zM913 566h1v3h-1zM917 566h1v1h-1zM921 566h1v1h-1zM925 564h1v3h-1zM929 562h1v5h-1zM933 563h1v4h-1zM937 565h1v2h-1zM941 566h1v1h-1zM945 566h1v3h-1zM949 566h1v5h-1zM953 566h1v8h-1zM957 566h1v10h-1zM961 566h1v12h-1zM965 566h1v14h-1zM969 566h1v14h-1zM973 566h1v12h-1zM977 566h1v11h-1zM981 566h1v11h-1zM985 566h1v12h-1zM989 566h1v12h-1zM993 566h1v12h-1zM997 566h1v12h-1zM1001 566h1v11h-1zM1005 566h1v9h-1zM1009 566h1v6h-1zM1013 566h1v4h-1zM1017 566h1v2h-1zM1021 566h1v2h-1zM1025 566h1v2h-1zM1029 566h1v2h-1zM1033 566h1v2h-1zM1037 566h1v2h-1zM1041 566h1v2h-1zM1045 566h1v2h-1zM1049 566h1v1h-1zM1053 565h1v2h-1zM1057 565h1v2h-1zM1061 566h1v1h-1zM1065 566h1v1h-1zM1069 566h1v1h-1zM1073 566h1v2h-1zM1077 566h1v3h-1zM1081 566h1v4h-1zM1085 566h1v4h-1zM1089 566h1v4h-1zM1093 566h1v3h-1zM1097 566h1v1h-1zM1101 566h1v1h-1zM1105 566h1v1h-1zM1109 565h1v2h-1zM1113 565h1v2h-1zM1117 565h1v2h-1zM1121 565h1v2h-1zM1125 566h1v1h-1zM1129 566h1v1h-1zM1133 566h1v1h-1zM1137 566h1v2h-1zM1141 566h1v4h-1zM1145 566h1v8h-1zM1149 566h1v9h-1zM1153 566h1v9h-1zM1157 566h1v11h-1zM1161 566h1v12h-1zM1165 566h1v13h-1zM1169 566h1v13h-1zM1173 566h1v14h-1zM1177 566h1v14h-1zM1181 566h1v15h-1zM1185 566h1v14h-1zM1189 566h1v12h-1zM1193 566h1v11h-1zM1197 566h1v9h-1zM1201 566h1v8h-1zM1205 566h1v6h-1zM1209 566h1v5h-1zM1213 566h1v4h-1zM1217 566h1v2h-1zM1221 566h1v1h-1zM1225 566h1v1h-1zM1229 564h1v3h-1zM1233 563h1v4h-1zM1237 562h1v5h-1zM1241 562h1v5h-1zM1245 561h1v6h-1zM1249 560h1v7h-1zM1253 560h1v7h-1zM1257 559h1v8h-1zM1261 559h1v8h-1zM1265 558h1v9h-1zM1269 556h1v11h-1zM1273 554h1v13h-1zM1277 551h1v16h-1zM1281 550h1v17h-1zM1285 548h1v19h-1zM1289 547h1v20h-1zM1293 545h1v22h-1zM1297 545h1v22h-1zM1301 545h1v22h-1zM1305 542h1v25h-1z" fill="#c0c0c0"/>
<path d="M5 558h3v1h-3zM11 557h3v1h-3zM17 557h3v1h-3zM23 557h1v1h-1zM24 556h2v1h-2zM29 556h3v1h-3zM35 556h3v1h-3zM41 556h3v1h-3zM47 555h3v1h-3zM53 555h3v1h-3zM59 554h3v1h-3zM65 553h3v1h-3zM71 553h3v1h-3zM77 552h3v1h-3zM83 552h3v1h-3zM89 551h3v1h-3zM95 551h1v1h-1zM96 552h2v1h-2zM101 552h3v1h-3zM107 552h1v1h-1zM108 553h2v1h-2zM113 553h3v1h-3zM119 555h2v1h-2zM121 556h1v1h-1zM125 558h3v1h-3zM131 560h2v1h-2zM133 561h1v1h-1zM137 562h2v1h-2zM139 563h1v1h-1zM143 564h1v1h-1zM144 565h2v1h-2zM149 566h3v1h-3zM155 566h3v1h-3zM161 567h3v1h-3zM167 567h3v1h-3zM173 567h3v1h-3zM179 566h3v1h-3zM185 566h3v1h-3zM191 566h3v1h-3zM197 565h3v1h-3zM203 565h3v1h-3zM209 564h3v1h-3zM215 564h1v1h-1zM216 563h2v1h-2zM221 562h3v1h-3zM227 560h2v1h-2zM229 559h1v1h-1zM233 558h3v1h-3zM239 557h1v1h-1zM240 556h2v1h-2zM245 555h2v1h-2zM247 554h1v1h-1zM251 553h1v1h-1zM252 552h2v1h-2zM257 551h3v1h-3zM263 550h3v1h-3zM269 549h3v1h-3zM275 548h1v1h-1zM276 547h2v1h-2zM281 547h3v1h-3zM287 547h3v1h-3zM293 548h3v1h-3zM299 549h1v1h-1zM300 550h2v1h-2zM305 553h2v1h-2zM307 554h1v1h-1zM311 557h1v1h-1zM312 558h1v1h-1zM313 559h1v1h-1zM317 562h1v1h-1zM318 563h1v1h-1zM319 564h1v1h-1zM323 568h1v1h-1zM324 569h1v1h-1zM325 570h1v1h-1zM329 573h2v1h-2zM331 574h1v1h-1zM335 576h1v1h-1zM336 577h1v1h-1zM337 578h1v1h-1zM341 580h3v1h-3zM347 580h1v1h-1zM348 581h2v1h-2zM353 580h3v1h-3zM359 580h3v1h-3zM365 579h3v1h-3zM371 577h2v1h-2zM373 576h1v1h-1zM377 576h3v1h-3zM383 575h1v1h-1zM384 574h2v1h-2zM389 573h3v1h-3zM395 572h3v1h-3zM401 571h3v1h-3zM407 570h3v1h-3zM413 570h3v1h-3zM419 571h1v1h-1zM420 572h2v1h-2zM425 573h2v1h-2zM427 574h1v1h-1zM431 575h1v1h-1zM432 576h2v1h-2zM437 577h3v1h-3zM443 578h1v1h-1zM444 579h2v1h-2zM449 580h3v1h-3zM455 580h1v1h-1zM456 581h2v1h-2zM461 580h3v1h-3zM467 579h3v1h-3zM473 579h3v1h-3zM479 579h3v1h-3zM485 579h3v1h-3zM491 579h1v1h-1zM492 580h2v1h-2zM497 580h3v1h-3zM503 580h3v1h-3zM509 580h3v1h-3zM515 580h3v1h-3zM521 579h3v1h-3zM527 579h1v1h-1zM528 578h2v1h-2zM533 576h3v1h-3zM539 574h2v1h-2zM541 573h1v1h-1zM545 572h3v1h-3zM551 570h2v1h-2zM553 569h1v1h-1zM557 568h3v1h-3zM563 567h1v1h-1zM564 566h2v1h-2zM569 565h3v1h-3zM575 565h3v1h-3zM581 565h3v1h-3zM587 565h1v1h-1zM588 566h2v1h-2zM593 567h3v1h-3zM599 568h2v1h-2zM601 569h1v1h-1zM605 570h3v1h-3zM611 570h3v1h-3zM617 571h3v1h-3zM623 571h3v1h-3zM629 571h3v1h-3zM635 571h3v1h-3zM641 571h3v1h-3zM647 572h1v1h-1zM648 573h2v1h-2zM653 574h3v1h-3zM659 576h2v1h-2zM661 577h1v1h-1zM665 580h2v1h-2zM667 581h1v1h-1zM671 583h2v1h-2zM673 584h1v1h-1zM677 586h2v1h-2zM679 587h1v1h-1zM683 588h1v1h-1zM684 589h2v1h-2zM689 591h2v1h-2zM691 592h1v1h-1zM695 593h1v1h-1zM696 594h2v1h-2zM701 594h3v1h-3zM707 594h3v1h-3zM713 593h2v1h-2zM715 592h1v1h-1zM719 591h1v1h-1zM720 590h2v1h-2zM725 589h2v1h-2zM727 588h1v1h-1zM731 586h2v1h-2zM733 585h1v1h-1zM737 583h2v1h-2zM739 582h1v1h-1zM743 580h2v1h-2zM745 579h1v1h-1zM749 578h2v1h-2zM751 577h1v1h-1zM755 575h2v1h-2zM757 574h1v1h-1zM761 573h3v1h-3zM767 572h1v1h-1zM768 571h2v1h-2zM773 570h3v1h-3zM779 570h1v1h-1zM780 571h2v1h-2zM785 572h3v1h-3zM791 574h2v1h-2zM793 575h1v1h-1zM797 576h3v1h-3zM803 576h1v1h-1zM804 577h2v1h-2zM809 578h3v1h-3zM815 578h1v1h-1zM816 579h2v1h-2zM821 579h3v1h-3zM827 579h3v1h-3zM833 579h3v1h-3zM839 579h3v1h-3zM845 578h2v1h-2zM847 577h1v1h-1zM851 576h3v1h-3zM857 575h2v1h-2zM859 574h1v1h-1zM863 573h3v1h-3zM869 572h3v1h-3zM875 572h3v1h-3zM881 572h3v1h-3zM887 572h1v1h-1zM888 573h2v1h-2zM893 574h3v1h-3zM899 574h1v1h-1zM900 575h2v1h-2zM905 575h3v1h-3zM911 575h3v1h-3zM917 574h2v1h-2zM919 573h1v1h-1zM923 572h1v1h-1zM924 571h2v1h-2zM929 569h3v1h-3zM935 567h2v1h-2zM937 566h1v1h-1zM941 565h3v1h-3zM947 565h3v1h-3zM953 566h3v1h-3zM959 568h2v1h-2zM961 569h1v1h-1zM965 571h2v1h-2zM967 572h1v1h-1zM971 573h1v1h-1zM972 574h2v1h-2zM977 575h3v1h-3zM983 576h1v1h-1zM984 577h2v1h-2zM989 577h3v1h-3zM995 577h3v1h-3zM1001 577h3v1h-3zM1007 576h1v1h-1zM1008 575h2v1h-2zM1013 575h3v1h-3zM1019 574h1v1h-1zM1020 573h2v1h-2zM1025 572h3v1h-3zM1031 571h1v1h-1zM1032 570h2v1h-2zM1037 569h3v1h-3zM1043 569h1v1h-1zM1044 568h2v1h-2zM1049 568h3v1h-3zM1055 567h1v1h-1zM1056 566h2v1h-2zM1061 566h3v1h-3zM1067 566h3v1h-3zM1073 566h3v1h-3zM1079 566h3v1h-3zM1085 567h3v1h-3zM1091 568h3v1h-3zM1097 568h3v1h-3zM1103 568h3v1h-3zM1109 568h3v1h-3zM1115 568h3v1h-3zM1121 567h3v1h-3zM1127 567h3v1h-3zM1133 567h3v1h-3zM1139 567h1v1h-1zM1140 568h2v1h-2zM1145 569h3v1h-3zM1151 570h3v1h-3zM1157 571h3v1h-3zM1163 572h1v1h-1zM1164 573h2v1h-2zM1169 574h2v1h-2zM1171 575h1v1h-1zM1175 576h1v1h-1zM1176 577h2v1h-2zM1181 578h3v1h-3zM1187 579h3v1h-3zM1193 579h3v1h-3zM1199 579h1v1h-1zM1200 578h2v1h-2zM1205 577h3v1h-3zM1211 576h1v1h-1zM1212 575h2v1h-2zM1217 574h2v1h-2zM1219 573h1v1h-1zM1223 572h1v1h-1zM1224 571h2v1h-2zM1229 570h2v1h-2zM1231 569h1v1h-1zM1235 568h1v1h-1zM1236 567h2v1h-2zM1241 566h3v1h-3zM1247 565h1v1h-1zM1248 564h2v1h-2zM1253 563h3v1h-3zM1259 562h1v1h-1zM1260 561h2v1h-2zM1265 560h3v1h-3zM1271 559h1v1h-1zM1272 558h2v1h-2zM1277 557h3v1h-3zM1283 556h1v1h-1zM1284 555h2v1h-2zM1289 553h2v1h-2zM1291 552h1v1h-1zM1295 551h1v1h-1zM1296 550h2v1h-2zM1301 548h3v1h-3z" fill="#ff0000"/>
<path d="M6 642h3v1h-3zM6 692h3v1h-3zM12 642h3v1h-3zM12 692h3v1h-3zM18 642h3v1h-3zM18 692h3v1h-3zM24 642h3v1h-3zM24 692h3v1h-3zM30 642h3v1h-3zM30 692h3v1h-3zM36 642h3v1h-3zM36 692h3v1h-3zM42 642h3v1h-3zM42 692h3v1h-3zM48 642h3v1h-3zM48 692h3v1h-3zM54 642h3v1h-3zM54 692h3v1h-3zM60 642h3v1h-3zM60 692h3v1h-3zM66 642h3v1h-3zM66 692h3v1h-3zM72 642h3v1h-3zM72 692h3v1h-3zM78 642h3v1h-3zM78 692h3v1h-3zM84 642h3v1h-3zM84 692h3v1h-3zM90 642h3v1h-3zM90 692h3v1h-3zM96 642h3v1h-3zM96 692h3v1h-3zM102 642h3v1h-3zM102 692h3v1h-3zM108 642h3v1h-3zM108 692h3v1h-3zM114 642h3v1h-3zM114 692h3v1h-3zM120 642h3v1h-3zM120 692h3v1h-3zM126 642h3v1h-3zM126 692h3v1h-3zM132 642h3v1h-3zM132 692h3v1h-3zM138 642h3v1h-3zM138 692h3v1h-3zM144 642h3v1h-3zM144 692h3v1h-3zM150 642h3v1h-3zM150 692h3v1h-3zM156 642h3v1h-3zM156 692h3v1h-3zM162 642h3v1h-3zM162 692h3v1h-3zM168 642h3v1h-3zM168 692h3v1h-3zM174 642h3v1h-3zM174 692h3v1h-3zM180 642h3v1h-3zM180 692h3v1h-3zM186 642h3v1h-3zM186 692h3v1h-3zM192 642h3v1h-3zM192 692h3v1h-3zM198 642h3v1h-3zM198 692h3v1h-3zM204 642h3v1h-3zM204 692h3v1h-3zM210 642h3v1h-3zM210 692h3v1h-3zM216 642h3v1h-3zM216 692h3v1h-3zM222 642h3v1h-3zM222 692h3v1h-3zM228 642h3v1h-3zM228 692h3v1h-3zM234 642h3v1h-3zM234 692h3v1h-3zM240 642h3v1h-3zM240 692h3v1h-3zM246 642h3v1h-3zM246 692h3v1h-3zM252 642h3v1h-3zM252 692h3v1h-3zM258 642h3v1h-3zM258 692h3v1h-3zM264 642h3v1h-3zM264 692h3v1h-3zM270 642h3v1h-3zM270 692h3v1h-3zM276 642h3v1h-3zM276 692h3v1h-3zM282 642h3v1h-3zM282 692h3v1h-3zM288 642h3v1h-3zM288 692h3v1h-3zM294 642h3v1h-3zM294 692h3v1h-3zM300 642h3v1h-3zM300 692h3v1h-3zM306 642h3v1h-3zM306 692h3v1h-3zM312 642h3v1h-3zM312 692h3v1h-3zM318 642h3v1h-3zM318 692h3v1h-3zM324 642h3v1h-3zM324 692h3v1h-3zM330 642h3v1h-3zM330 692h3v1h-3zM336 642h3v1h-3zM336 692h3v1h-3zM342 642h3v1h-3zM342 692h3v1h-3zM348 642h3v1h-3zM348 692h3v1h-3zM354 642h3v1h-3zM354 692h3v1h-3zM360 642h3v1h-3zM360 692h3v1h-3zM366 642h3v1h-3zM366 692h3v1h-3zM372 642h3v1h-3zM372 692h3v1h-3zM378 642h3v1h-3zM378 692h3v1h-3zM384 642h3v1h-3zM384 692h3v1h-3zM390 642h3v1h-3zM390 692h3v1h-3zM396 642h3v1h-3zM396 692h3v1h-3zM402 642h3v1h-3zM402 692h3v1h-3zM408 642h3v1h-3zM408 692h3v1h-3zM414 642h3v1h-3zM414 692h3v1h-3zM420 642h3v1h-3zM420 692h3v1h-3zM426 642h3v1h-3zM426 692h3v1h-3zM432 642h3v1h-3zM432 692h3v1h-3zM438 642h3v1h-3zM438 692h3v1h-3zM444 642h3v1h-3zM444 692h3v1h-3zM450 642h3v1h-3zM450 692h3v1h-3zM456 642h3v1h-3zM456 692h3v1h-3zM462 642h3v1h-3zM462 692h3v1h-3zM468 642h3v1h-3zM468 692h3v1h-3zM474 642h3v1h-3zM474 692h3v1h-3zM480 642h3v1h-3zM480 692h3v1h-3zM486 642h3v1h-3zM486 692h3v1h-3zM492 642h3v1h-3zM492 692h3v1h-3zM498 642h3v1h-3zM498 692h3v1h-3zM504 642h3v1h-3zM504 692h3v1h-3zM510 642h3v1h-3zM510 692h3v1h-3zM516 642h3v1h-3zM516 692h3v1h-3zM522 642h3v1h-3zM522 692h3v1h-3zM528 642h3v1h-3zM528 692h3v1h-3zM534 642h3v1h-3zM534 692h3v1h-3zM540 642h3v1h-3zM540 692h3v1h-3zM546 642h3v1h-3zM546 692h3v1h-3zM552 642h3v1h-3zM552 692h3v1h-3zM558 642h3v1h-3zM558 692h3v1h-3zM564 642h3v1h-3zM564 692h3v1h-3zM570 642h3v1h-3zM570 692h3v1h-3zM576 642h3v1h-3zM576 692h3v1h-3zM582 642h3v1h-3zM582 692h3v1h-3zM588 642h3v1h-3zM588 692h3v1h-3zM594 642h3v1h-3zM594 692h3v1h-3zM600 642h3v1h-3zM600 692h3v1h-3zM606 642h3v1h-3zM606 692h3v1h-3zM612 642h3v1h-3zM612 692h3v1h-3zM618 642h3v1h-3zM618 692h3v1h-3zM624 642h3v1h-3zM624 692h3v1h-3zM630 642h3v1h-3zM630 692h3v1h-3zM636 642h3v1h-3zM636 692h3v1h-3zM642 642h3v1h-3zM642 692h3v1h-3zM648 642h3v1h-3zM648 692h3v1h-3zM654 642h3v1h-3zM654 692h3v1h-3zM660 642h3v1h-3zM660 692h3v1h-3zM666 642h3v1h-3zM666 692h3v1h-3zM672 642h3v1h-3zM672 692h3v1h-3zM678 642h3v1h-3zM678 692h3v1h-3zM684 642h3v1h-3zM684 692h3v1h-3zM690 642h3v1h-3zM690 692h3v1h-3zM696 642h3v1h-3zM696 692h3v1h-3zM702 642h3v1h-3zM702 692h3v1h-3zM708 642h3v1h-3zM708 692h3v1h-3zM714 642h3v1h-3zM714 692h3v1h-3zM720 642h3v1h-3zM720 692h3v1h-3zM726 642h3v1h-3zM726 692h3v1h-3zM732 642h3v1h-3zM732 692h3v1h-3zM738 642h3v1h-3zM738 692h3v1h-3zM744 642h3v1h-3zM744 692h3v1h-3zM750 642h3v1h-3zM750 692h3v1h-3zM756 642h3v1h-3zM756 692h3v1h-3zM762 642h3v1h-3zM762 692h3v1h-3zM768 642h3v1h-3zM768 692h3v1h-3zM774 642h3v1h-3zM774 692h3v1h-3zM780 642h3v1h-3zM780 692h3v1h-3zM786 642h3v1h-3zM786 692h3v1h-3zM792 642h3v1h-3zM792 692h3v1h-3zM798 642h3v1h-3zM798 692h3v1h-3zM804 642h3v1h-3zM804 692h3v1h-3zM810 642h3v1h-3zM810 692h3v1h-3zM816 642h3v1h-3zM816 692h3v1h-3zM822 642h3v1h-3zM822 692h3v1h-3zM828 642h3v1h-3zM828 692h3v1h-3zM834 642h3v1h-3zM834 692h3v1h-3zM840 642h3v1h-3zM840 692h3v1h-3zM846 642h3v1h-3zM846 692h3v1h-3zM852 642h3v1h-3zM852 692h3v1h-3zM858 642h3v1h-3zM858 692h3v1h-3zM864 642h3v1h-3zM864 692h3v1h-3zM870 642h3v1h-3zM870 692h3v1h-3zM876 642h3v1h-3zM876 692h3v1h-3zM882 642h3v1h-3zM882 692h3v1h-3zM888 642h3v1h-3zM888 692h3v1h-3zM894 642h3v1h-3zM894 692h3v1h-3zM900 642h3v1h-3zM900 692h3v1h-3zM906 642h3v1h-3zM906 692h3v1h-3zM912 642h3v1h-3zM912 692h3v1h-3zM918 642h3v1h-3zM918 692h3v1h-3zM924 642h3v1h-3zM924 692h3v1h-3zM930 642h3v1h-3zM930 692h3v1h-3zM936 642h3v1h-3zM936 692h3v1h-3zM942 642h3v1h-3zM942 692h3v1h-3zM948 642h3v1h-3zM948 692h3v1h-3zM954 642h3v1h-3zM954 692h3v1h-3zM960 642h3v1h-3zM960 692h3v1h-3zM966 642h3v1h-3zM966 692h3v1h-3zM972 642h3v1h-3zM972 692h3v1h-3zM978 642h3v1h-3zM978 692h3v1h-3zM984 642h3v1h-3zM984 692h3v1h-3zM990 642h3v1h-3zM990 692h3v1h-3zM996 642h3v1h-3zM996 692h3v1h-3zM1002 642h3v1h-3zM1002 692h3v1h-3zM1008 642h3v1h-3zM1008 692h3v1h-3zM1014 642h3v1h-3zM1014 692h3v1h-3zM1020 642h3v1h-3zM1020 692h3v1h-3zM1026 642h3v1h-3zM1026 692h3v1h-3zM1032 642h3v1h-3zM1032 692h3v1h-3zM1038 642h3v1h-3zM1038 692h3v1h-3zM1044 642h3v1h-3zM1044 692h3v1h-3zM1050 642h3v1h-3zM1050 692h3v1h-3zM1056 642h3v1h-3zM1056 692h3v1h-3zM1062 642h3v1h-3zM1062 692h3v1h-3zM1068 642h3v1h-3zM1068 692h3v1h-3zM1074 642h3v1h-3zM1074 692h3v1h-3zM1080 642h3v1h-3zM1080 692h3v1h-3zM1086 642h3v1h-3zM1086 692h3v1h-3zM1092 642h3v1h-3zM1092 692h3v1h-3zM1098 642h3v1h-3zM1098 692h3v1h-3zM1104 642h3v1h-3zM1104 692h3v1h-3zM1110 642h3v1h-3zM1110 692h3v1h-3zM1116 642h3v1h-3zM1116 692h3v1h-3zM1122 642h3v1h-3zM1122 692h3v1h-3zM1128 642h3v1h-3zM1128 692h3v1h-3zM1134 642h3v1h-3zM1134 692h3v1h-3zM1140 642h3v1h-3zM1140 692h3v1h-3zM1146 642h3v1h-3zM1146 692h3v1h-3zM1152 642h3v1h-3zM1152 692h3v1h-3zM1158 642h3v1h-3zM1158 692h3v1h-3zM1164 642h3v1h-3zM1164 692h3v1h-3zM1170 642h3v1h-3zM1170 692h3v1h-3zM1176 642h3v1h-3zM1176 692h3v1h-3zM1182 642h3v1h-3zM1182 692h3v1h-3zM1188 642h3v1h-3zM1188 692h3v1h-3zM1194 642h3v1h-3zM1194 692h3v1h-3zM1200 642h3v1h-3zM1200 692h3v1h-3zM1206 642h3v1h-3zM1206 692h3v1h-3zM1212 642h3v1h-3zM1212 692h3v1h-3zM1218 642h3v1h-3zM1218 692h3v1h-3zM1224 642h3v1h-3zM1224 692h3v1h-3zM1230 642h3v1h-3zM1230 692h3v1h-3zM1236 642h3v1h-3zM1236 692h3v1h-3zM1242 642h3v1h-3zM1242 692h3v1h-3zM1248 642h3v1h-3zM1248 692h3v1h-3zM1254 642h3v1h-3zM1254 692h3v1h-3zM1260 642h3v1h-3zM1260 692h3v1h-3zM1266 642h3v1h-3zM1266 692h3v1h-3zM1272 642h3v1h-3zM1272 692h3v1h-3zM1278 642h3v1h-3zM1278 692h3v1h-3zM1284 642h3v1h-3zM1284 692h3v1h-3zM1290 642h3v1h-3zM1290 692h3v1h-3zM1296 642h3v1h-3zM1296 692h3v1h-3zM1302 642h3v1h-3zM1302 692h3v1h-3zM1308 642h3v1h-3zM1308 692h3v1h-3zM1314 642h3v1h-3zM1314 692h3v1h-3zM1320 642h3v1h-3zM1320 692h3v1h-3zM1326 642h3v1h-3zM1326 692h3v1h-3zM1332 642h3v1h-3zM1332 692h3v1h-3zM1338 642h3v1h-3zM1338 692h3v1h-3zM1344 642h3v1h-3zM1344 692h3v1h-3zM1350 642h3v1h-3zM1350 692h3v1h-3zM1356 642h3v1h-3zM1356 692h3v1h-3zM1362 642h3v1h-3zM1362 692h3v1h-3zM1368 642h3v1h-3zM1368 692h3v1h-3zM1374 642h3v1h-3zM1374 692h3v1h-3zM1380 642h3v1h-3zM1380 692h3v1h-3zM1386 642h3v1h-3zM1386 692h3v1h-3zM1392 642h3v1h-3zM1392 692h3v1h-3zM1398 642h3v1h-3zM1398 692h3v1h-3zM1404 642h3v1h-3zM1404 692h3v1h-3zM1410 642h3v1h-3zM1410 692h3v1h-3zM1416 642h3v1h-3zM1416 692h3v1h-3zM1422 642h3v1h-3zM1422 692h3v1h-3zM1428 642h3v1h-3zM1428 692h3v1h-3zM1434 642h3v1h-3zM1434 692h3v1h-3zM1440 642h3v1h-3zM1440 692h3v1h-3zM1446 642h3v1h-3zM1446 692h3v1h-3zM1452 642h3v1h-3zM1452 692h3v1h-3zM1458 642h3v1h-3zM1458 692h3v1h-3zM1464 642h3v1h-3zM1464 692h3v1h-3zM1470 642h3v1h-3zM1470 692h3v1h-3zM1476 642h3v1h-3zM1476 692h3v1h-3zM1482 642h3v1h-3zM1482 692h3v1h-3zM1488 642h3v1h-3zM1488 692h3v1h-3zM1494 642h3v1h-3zM1494 692h3v1h-3zM1500 642h3v1h-3zM1500 692h3v1h-3zM1506 642h3v1h-3zM1506 692h3v1h-3zM1512 642h3v1h-3zM1512 692h3v1h-3zM1518 642h3v1h-3zM1518 692h3v1h-3zM1524 642h3v1h-3zM1524 692h3v1h-3zM1530 642h3v1h-3zM1530 692h3v1h-3zM1536 642h3v1h-3zM1536 692h3v1h-3zM1542 642h3v1h-3zM1542 692h3v1h-3zM1548 642h3v1h-3zM1548 692h3v1h-3zM1554 642h3v1h-3zM1554 692h3v1h-3zM1560 642h3v1h-3zM1560 692h3v1h-3zM1566 642h3v1h-3zM1566 692h3v1h-3zM1572 642h3v1h-3zM1572 692h3v1h-3zM1578 642h3v1h-3zM1578 692h3v1h-3zM1584 642h3v1h-3zM1584 692h3v1h-3zM1590 642h3v1h-3zM1590 692h3v1h-3zM1596 642h3v1h-3zM1596 692h3v1h-3zM1602 642h3v1h-3zM1602 692h3v1h-3zM1608 642h3v1h-3zM1608 692h3v1h-3zM1614 642h3v1h-3zM1614 692h3v1h-3zM1620 642h3v1h-3zM1620 692h3v1h-3zM1626 642h3v1h-3zM1626 692h3v1h-3zM1632 642h3v1h-3zM1632 692h3v1h-3z" fill="#c0c0c0"/>
<path d="M5 644h1v1h-1zM6 643h1v1h-1zM7 642h1v1h-1zM8 641h1v1h-1zM9 640h1v1h-1zM10 639h1v1h-1zM11 638h1v1h-1zM12 637h1v1h-1zM13 636h1v1h-1zM14 635h1v1h-1zM15 634h1v1h-1zM16 633h2v1h-2zM17 632h1v1h-1zM18 634h1v4h-1zM19 638h1v4h-1zM20 642h1v4h-1zM21 646h1v2h-1zM22 647h1v1h-1zM23 646h2v1h-2zM25 645h1v1h-1zM26 646h1v1h-1zM27 647h1v1h-1zM28 648h1v1h-1zM29 649h3v1h-3zM32 648h2v1h-2zM33 649h1v1h-1zM34 650h1v2h-1zM35 652h1v2h-1zM36 654h1v2h-1zM37 655h1v2h-1zM38 653h1v2h-1zM39 651h1v2h-1zM40 649h1v2h-1zM41 648h1v1h-1zM42 646h1v2h-1zM43 644h1v2h-1zM44 642h1v2h-1zM45 641h3v1h-3zM48 642h2v1h-2zM50 641h1v1h-1zM51 639h1v2h-1zM52 638h1v1h-1zM53 637h1v1h-1zM54 636h1v1h-1zM55 635h1v1h-1zM56 634h1v1h-1zM57 633h3v1h-3zM60 632h2v1h-2zM61 633h1v1h-1zM62 634h1v2h-1zM63 636h1v2h-1zM64 638h1v2h-1zM65 640h1v2h-1zM66 642h1v2h-1zM67 644h1v2h-1zM68 646h1v2h-1zM69 648h2v1h-2zM69 649h1v1h-1zM71 646h1v2h-1zM72 645h1v1h-1zM73 644h3v1h-3zM76 643h2v1h-2zM78 642h1v1h-1zM79 641h1v1h-1zM80 640h1v1h-1zM81 638h1v2h-1zM82 636h1v2h-1zM83 634h1v2h-1zM84 632h1v2h-1zM85 631h5v1h-5zM89 632h1v3h-1zM90 635h1v7h-1zM91 642h1v8h-1zM92 650h1v7h-1zM93 657h1v4h-1zM94 660h4v1h-4zM97 661h1v1h-1zM98 662h1v2h-1zM99 664h1v3h-1zM100 667h1v2h-1zM101 669h1v2h-1zM102 670h2v1h-2zM104 669h4v1h-4zM108 670h2v1h-2zM110 671h1v2h-1zM111 673h1v2h-1zM112 675h1v2h-1zM113 677h5v1h-5zM118 676h1v1h-1zM119 674h1v2h-1zM120 673h1v1h-1zM121 672h2v1h-2zM123 671h2v1h-2zM125 670h1v1h-1zM126 671h1v1h-1zM127 672h1v2h-1zM128 674h1v1h-1zM129 675h1v1h-1zM130 676h1v1h-1zM131 677h1v2h-1zM132 679h2v1h-2zM133 680h1v1h-1zM134 677h1v2h-1zM135 674h1v3h-1zM136 672h1v2h-1zM137 669h1v3h-1zM138 667h1v2h-1zM139 665h1v2h-1zM140 663h1v2h-1zM141 661h1v2h-1zM142 663h1v2h-1zM143 665h1v2h-1zM144 667h1v2h-1zM145 669h1v1h-1zM146 668h1v1h-1zM147 667h1v1h-1zM148 666h1v1h-1zM149 665h3v1h-3zM152 666h2v1h-2zM153 667h1v1h-1zM154 668h1v2h-1zM155 670h1v2h-1zM156 672h1v2h-1zM157 674h2v1h-2zM159 673h2v1h-2zM161 671h1v2h-1zM162 669h1v2h-1zM163 667h1v2h-1zM164 665h1v2h-1zM165 664h2v1h-2zM167 665h2v1h-2zM169 666h1v1h-1zM170 664h1v2h-1zM171 663h1v1h-1zM172 661h1v2h-1zM173 660h3v1h-3zM176 661h2v1h-2zM178 662h2v1h-2zM180 663h1v1h-1zM181 664h2v1h-2zM183 663h3v1h-3zM185 662h1v1h-1zM186 664h1v3h-1zM187 667h1v2h-1zM188 669h1v3h-1zM189 672h2v1h-2zM189 673h1v1h-1zM190 671h1v1h-1zM191 670h1v1h-1zM192 668h1v2h-1zM193 667h2v1h-2zM195 666h2v1h-2zM197 665h1v1h-1zM198 663h1v2h-1zM199 661h1v2h-1zM200 659h1v2h-1zM201 658h1v1h-1zM202 657h2v1h-2zM204 656h1v1h-1zM205 655h3v1h-3zM208 654h4v1h-4zM212 653h3v1h-3zM215 652h2v1h-2zM217 651h1v1h-1zM218 650h1v1h-1zM219 649h1v1h-1zM220 648h1v1h-1zM221 647h3v1h-3zM224 646h7v1h-7zM231 645h2v1h-2zM233 644h3v1h-3zM236 645h2v1h-2zM238 644h1v1h-1zM239 643h1v1h-1zM240 642h1v1h-1zM241 641h1v1h-1zM242 642h1v1h-1zM243 643h1v1h-1zM244 644h1v1h-1zM245 645h1v1h-1zM246 644h1v1h-1zM247 642h1v2h-1zM248 641h1v1h-1zM249 640h3v1h-3zM252 639h2v1h-2zM254 638h1v1h-1zM255 636h1v2h-1zM256 635h1v1h-1zM257 634h1v1h-1zM258 633h2v1h-2zM260 632h1v1h-1zM261 631h5v1h-5zM265 632h1v1h-1zM266 633h1v2h-1zM267 635h1v2h-1zM268 637h1v2h-1zM269 639h1v1h-1zM270 638h2v1h-2zM272 637h2v1h-2zM273 636h1v1h-1zM273 638h1v1h-1zM274 639h1v5h-1zM275 644h1v4h-1zM276 648h1v5h-1zM277 653h1v3h-1zM278 656h1v2h-1zM279 658h1v2h-1zM280 660h1v2h-1zM281 662h2v1h-2zM283 661h2v1h-2zM285 660h1v1h-1zM286 661h1v2h-1zM287 663h1v2h-1zM288 665h1v2h-1zM289 667h1v1h-1zM290 666h1v1h-1zM291 664h1v2h-1zM292 663h1v1h-1zM293 662h2v1h-2zM295 663h2v1h-2zM297 664h1v3h-1zM298 667h1v4h-1zM299 671h1v5h-1zM300 676h1v4h-1zM301 680h1v4h-1zM302 684h1v2h-1zM303 686h1v2h-1zM304 688h1v2h-1zM305 690h3v1h-3zM308 691h2v1h-2zM309 692h1v1h-1zM310 693h1v3h-1zM311 696h1v2h-1zM312 698h1v3h-1zM313 701h1v2h-1zM314 699h1v2h-1zM315 696h1v3h-1zM316 694h1v2h-1zM317 692h1v2h-1zM318 690h1v2h-1zM319 689h1v1h-1zM320 687h1v2h-1zM321 686h1v1h-1zM322 685h1v1h-1zM323 684h1v1h-1zM324 683h1v1h-1zM325 682h1v1h-1zM326 680h1v2h-1zM327 678h1v2h-1zM328 676h1v2h-1zM329 675h1v1h-1zM330 674h2v1h-2zM332 673h1v1h-1zM333 672h1v1h-1zM334 671h1v1h-1zM335 669h1v2h-1zM336 668h1v1h-1zM337 667h1v1h-1zM338 668h1v2h-1zM339 670h1v1h-1zM340 671h1v2h-1zM341 673h1v1h-1zM342 674h2v1h-2zM344 675h1v1h-1zM345 676h1v1h-1zM346 675h2v1h-2zM348 674h1v1h-1zM349 673h2v1h-2zM351 674h2v1h-2zM353 675h3v1h-3zM356 676h2v1h-2zM358 674h1v2h-1zM359 672h1v2h-1zM360 670h1v2h-1zM361 669h1v1h-1zM362 670h1v1h-1zM363 671h1v1h-1zM364 672h1v1h-1zM365 673h1v1h-1zM366 672h1v1h-1zM367 670h1v2h-1zM368 669h1v1h-1zM369 668h1v1h-1zM370 667h1v1h-1zM371 666h1v1h-1zM372 665h1v1h-1zM373 664h3v1h-3zM376 663h2v1h-2zM378 664h1v1h-1zM379 665h1v1h-1zM380 666h1v1h-1zM381 667h2v1h-2zM383 668h2v1h-2zM385 669h2v1h-2zM387 668h2v1h-2zM389 667h1v1h-1zM390 668h1v1h-1zM391 669h1v2h-1zM392 671h1v1h-1zM393 672h2v1h-2zM395 671h2v1h-2zM397 670h5v1h-5zM402 671h2v1h-2zM404 672h1v1h-1zM405 673h1v1h-1zM406 674h1v1h-1zM407 675h1v1h-1zM408 676h1v1h-1zM409 677h1v2h-1zM410 679h1v4h-1zM411 683h1v3h-1zM412 686h1v4h-1zM413 690h2v1h-2zM413 691h1v1h-1zM414 689h1v1h-1zM415 688h1v1h-1zM416 686h1v2h-1zM417 685h1v1h-1zM418 684h1v1h-1zM419 682h1v2h-1zM420 681h1v1h-1zM421 680h1v1h-1zM422 681h1v2h-1zM423 683h1v1h-1zM424 684h1v2h-1zM425 685h1v2h-1zM426 683h1v2h-1zM427 681h1v2h-1zM428 679h1v2h-1zM429 678h6v1h-6zM435 679h2v1h-2zM437 680h7v1h-7zM444 681h6v1h-6zM449 680h1v1h-1zM450 677h1v3h-1zM451 675h1v2h-1zM452 672h1v3h-1zM453 670h3v1h-3zM453 671h1v1h-1zM456 669h2v1h-2zM458 670h1v1h-1zM459 671h1v2h-1zM460 673h1v1h-1zM461 674h1v1h-1zM462 675h2v1h-2zM464 676h1v1h-1zM465 677h1v1h-1zM466 678h1v2h-1zM467 680h1v1h-1zM468 681h1v2h-1zM469 683h1v1h-1zM470 684h1v1h-1zM471 685h1v2h-1zM472 687h1v1h-1zM473 688h2v1h-2zM475 687h2v1h-2zM477 686h1v1h-1zM478 684h1v2h-1zM479 682h1v2h-1zM480 680h1v2h-1zM481 679h1v1h-1zM482 680h1v2h-1zM483 682h1v1h-1zM484 683h1v2h-1zM485 685h2v1h-2zM487 684h2v1h-2zM489 682h1v2h-1zM490 679h1v3h-1zM491 676h1v3h-1zM492 673h1v3h-1zM493 671h3v1h-3zM493 672h1v1h-1zM496 672h2v1h-2zM497 673h1v1h-1zM498 674h1v2h-1zM499 676h1v2h-1zM500 678h1v2h-1zM501 680h1v2h-1zM502 681h1v1h-1zM503 680h2v1h-2zM505 679h3v1h-3zM508 678h2v1h-2zM510 677h1v1h-1zM511 676h1v1h-1zM512 675h1v1h-1zM513 674h2v1h-2zM515 675h3v1h-3zM517 676h1v1h-1zM518 673h1v2h-1zM519 671h1v2h-1zM520 669h1v2h-1zM521 668h1v1h-1zM522 666h1v2h-1zM523 665h1v1h-1zM524 663h1v2h-1zM525 662h3v1h-3zM528 663h2v1h-2zM530 662h2v1h-2zM532 661h1v1h-1zM533 660h1v1h-1zM534 661h2v1h-2zM536 662h1v1h-1zM537 663h1v1h-1zM538 662h1v1h-1zM539 660h1v2h-1zM540 659h1v1h-1zM541 658h3v1h-3zM544 657h2v1h-2zM546 658h1v1h-1zM547 659h1v2h-1zM548 661h1v1h-1zM549 662h1v1h-1zM550 663h1v2h-1zM551 665h1v2h-1zM552 667h1v2h-1zM553 669h1v1h-1zM554 667h1v2h-1zM555 665h1v2h-1zM556 663h1v2h-1zM557 662h3v1h-3zM560 661h4v1h-4zM564 662h2v1h-2zM565 663h1v1h-1zM566 664h1v2h-1zM567 666h1v2h-1zM568 668h1v2h-1zM569 670h1v2h-1zM570 672h1v1h-1zM571 673h1v1h-1zM572 674h1v1h-1zM573 675h3v1h-3zM576 676h2v1h-2zM578 675h1v1h-1zM579 674h1v1h-1zM580 673h1v1h-1zM581 672h1v1h-1zM582 673h1v1h-1zM583 674h1v2h-1zM584 676h1v1h-1zM585 677h1v2h-1zM586 679h1v2h-1zM587 681h1v2h-1zM588 683h1v2h-1zM589 684h1v2h-1zM590 681h1v3h-1zM591 678h1v3h-1zM592 675h1v3h-1zM593 673h1v2h-1zM594 674h2v1h-2zM596 675h1v1h-1zM597 676h1v1h-1zM598 675h1v1h-1zM599 674h1v1h-1zM600 673h1v1h-1zM601 672h1v1h-1zM602 671h1v1h-1zM603 669h1v2h-1zM604 668h1v1h-1zM605 667h7v1h-7zM612 668h2v1h-2zM614 669h1v2h-1zM615 671h1v2h-1zM616 673h1v2h-1zM617 675h2v1h-2zM619 674h2v1h-2zM621 673h1v1h-1zM622 671h1v2h-1zM623 670h1v1h-1zM624 668h1v2h-1zM625 667h1v1h-1zM626 668h1v1h-1zM627 669h1v2h-1zM628 671h1v1h-1zM629 672h1v1h-1zM630 673h1v1h-1zM631 674h1v1h-1zM632 675h1v1h-1zM633 676h2v1h-2zM635 677h2v1h-2zM637 678h1v2h-1zM638 680h1v3h-1zM639 683h1v4h-1zM640 687h1v3h-1zM641 690h3v1h-3zM641 691h1v1h-1zM644 689h1v1h-1zM645 688h1v1h-1zM646 689h2v1h-2zM648 690h1v1h-1zM649 691h1v1h-1zM650 690h1v1h-1zM651 689h1v1h-1zM652 688h1v1h-1zM653 687h1v1h-1zM654 688h1v1h-1zM655 689h1v2h-1zM656 691h1v1h-1zM657 692h3v1h-3zM660 693h2v1h-2zM662 694h1v2h-1zM663 696h1v1h-1zM664 697h1v2h-1zM665 699h3v1h-3zM668 700h2v1h-2zM669 699h1v1h-1zM670 695h1v4h-1zM671 691h1v4h-1zM672 687h1v4h-1zM673 685h1v2h-1zM674 687h1v2h-1zM675 689h1v2h-1zM676 691h1v2h-1zM677 693h3v1h-3zM680 692h4v1h-4zM684 693h3v1h-3zM687 694h2v1h-2zM689 695h1v1h-1zM690 694h1v1h-1zM691 693h1v1h-1zM692 692h1v1h-1zM693 690h1v2h-1zM694 686h1v4h-1zM695 683h1v3h-1zM696 679h1v4h-1zM697 677h5v1h-5zM697 678h1v1h-1zM702 678h1v1h-1zM703 679h1v2h-1zM704 681h2v1h-2zM705 682h1v1h-1zM706 678h1v3h-1zM707 676h1v2h-1zM708 673h1v3h-1zM709 671h6v1h-6zM709 672h1v1h-1zM715 672h2v1h-2zM717 673h2v1h-2zM719 674h2v1h-2zM721 675h3v1h-3zM724 676h3v1h-3zM727 677h3v1h-3zM729 678h1v1h-1zM730 675h1v2h-1zM731 672h1v3h-1zM732 670h1v2h-1zM733 668h1v2h-1zM734 667h2v1h-2zM736 666h1v1h-1zM737 665h1v1h-1zM738 663h1v2h-1zM739 662h1v1h-1zM740 660h1v2h-1zM741 659h5v1h-5zM746 660h1v2h-1zM747 662h1v1h-1zM748 663h1v2h-1zM749 665h3v1h-3zM752 666h3v1h-3zM755 667h2v1h-2zM757 668h2v1h-2zM759 667h3v1h-3zM761 666h1v1h-1zM762 668h1v2h-1zM763 670h1v3h-1zM764 673h1v2h-1zM765 675h1v3h-1zM766 678h1v2h-1zM767 680h1v2h-1zM768 682h1v2h-1zM769 684h1v1h-1zM770 685h1v1h-1zM771 686h1v1h-1zM772 687h1v1h-1zM773 688h1v1h-1zM774 689h2v1h-2zM776 690h2v1h-2zM777 691h1v1h-1zM778 686h1v4h-1zM779 683h1v3h-1zM780 679h1v4h-1zM781 677h1v2h-1zM782 678h1v1h-1zM783 679h1v2h-1zM784 681h2v1h-2zM785 682h1v1h-1zM786 679h1v2h-1zM787 676h1v3h-1zM788 674h1v2h-1zM789 672h3v1h-3zM789 673h1v1h-1zM792 671h3v1h-3zM795 672h2v1h-2zM797 673h3v1h-3zM800 674h2v1h-2zM802 675h1v2h-1zM803 677h1v2h-1zM804 679h1v2h-1zM805 681h2v1h-2zM807 682h2v1h-2zM809 683h1v1h-1zM810 684h1v1h-1zM811 685h1v2h-1zM812 687h1v1h-1zM813 688h1v1h-1zM814 686h1v2h-1zM815 684h1v2h-1zM816 682h1v2h-1zM817 681h1v1h-1zM818 679h1v2h-1zM819 678h1v1h-1zM820 676h1v2h-1zM821 675h11v1h-11zM832 674h2v1h-2zM833 673h1v1h-1zM834 670h1v3h-1zM835 668h1v2h-1zM836 665h1v3h-1zM837 663h3v1h-3zM837 664h1v1h-1zM840 664h4v1h-4zM844 665h2v1h-2zM846 666h1v1h-1zM847 667h1v2h-1zM848 669h1v1h-1zM849 670h1v1h-1zM850 671h2v1h-2zM852 672h1v1h-1zM853 673h3v1h-3zM856 674h2v1h-2zM858 672h1v2h-1zM859 670h1v2h-1zM860 668h2v1h-2zM860 669h1v1h-1zM861 667h1v1h-1zM862 669h1v2h-1zM863 671h1v3h-1zM864 674h1v2h-1zM865 676h1v2h-1zM866 678h2v1h-2zM868 679h1v1h-1zM869 680h1v1h-1zM870 679h1v1h-1zM871 678h1v1h-1zM872 677h1v1h-1zM873 676h1v1h-1zM874 677h1v1h-1zM875 678h1v2h-1zM876 680h1v1h-1zM877 681h3v1h-3zM880 682h3v1h-3zM883 683h2v1h-2zM885 684h1v1h-1zM886 683h1v1h-1zM887 681h1v2h-1zM888 680h1v1h-1zM889 679h5v1h-5zM894 680h1v1h-1zM895 681h1v1h-1zM896 682h2v1h-2zM897 683h1v1h-1zM898 679h1v3h-1zM899 677h1v2h-1zM900 674h1v3h-1zM901 672h1v2h-1zM902 670h1v2h-1zM903 669h1v1h-1zM904 667h1v2h-1zM905 666h1v1h-1zM906 665h2v1h-2zM908 664h1v1h-1zM909 662h1v2h-1zM910 659h1v3h-1zM911 656h1v3h-1zM912 653h1v3h-1zM913 651h1v2h-1zM914 652h1v2h-1zM915 654h1v1h-1zM916 655h1v2h-1zM917 657h1v1h-1zM918 656h2v1h-2zM920 655h1v1h-1zM921 654h3v1h-3zM924 655h2v1h-2zM926 654h1v1h-1zM927 653h1v1h-1zM928 652h2v1h-2zM929 651h1v1h-1zM929 653h1v1h-1zM930 654h1v5h-1zM931 659h1v6h-1zM932 665h1v5h-1zM933 670h1v3h-1zM934 672h6v1h-6zM940 671h2v1h-2zM941 672h1v2h-1zM942 674h1v4h-1zM943 678h1v4h-1zM944 682h1v4h-1zM945 686h2v1h-2zM945 687h1v1h-1zM946 685h1v1h-1zM947 683h1v2h-1zM948 681h1v2h-1zM949 680h1v1h-1zM950 681h2v1h-2zM952 682h1v1h-1zM953 683h3v1h-3zM956 684h4v1h-4zM960 683h2v1h-2zM962 684h1v1h-1zM963 685h1v1h-1zM964 686h2v1h-2zM965 687h1v1h-1zM966 684h1v2h-1zM967 682h1v2h-1zM968 680h1v2h-1zM969 677h1v3h-1zM970 673h1v4h-1zM971 669h1v4h-1zM972 665h1v4h-1zM973 663h1v2h-1zM974 665h1v2h-1zM975 667h1v2h-1zM976 669h1v2h-1zM977 671h1v2h-1zM978 672h2v1h-2zM980 671h4v1h-4zM984 670h2v1h-2zM986 671h2v1h-2zM988 672h1v1h-1zM989 673h1v1h-1zM990 674h1v2h-1zM991 676h1v1h-1zM992 677h1v2h-1zM993 679h1v1h-1zM994 678h2v1h-2zM996 677h1v1h-1zM997 676h1v1h-1zM998 675h1v1h-1zM999 673h1v2h-1zM1000 672h1v1h-1zM1001 671h2v1h-2zM1003 670h2v1h-2zM1005 668h1v2h-1zM1006 666h1v2h-1zM1007 663h1v3h-1zM1008 661h1v2h-1zM1009 659h1v2h-1zM1010 660h1v1h-1zM1011 661h1v1h-1zM1012 662h1v1h-1zM1013 663h3v1h-3zM1016 664h2v1h-2zM1018 665h2v1h-2zM1020 666h1v1h-1zM1021 667h5v1h-5zM1026 668h1v1h-1zM1027 669h1v2h-1zM1028 671h1v1h-1zM1029 672h1v1h-1zM1030 671h1v1h-1zM1031 670h1v1h-1zM1032 669h1v1h-1zM1033 668h1v1h-1zM1034 667h1v1h-1zM1035 666h1v1h-1zM1036 665h1v1h-1zM1037 664h1v1h-1zM1038 665h1v1h-1zM1039 666h1v1h-1zM1040 667h1v1h-1zM1041 668h1v1h-1zM1042 667h1v1h-1zM1043 666h1v1h-1zM1044 665h1v1h-1zM1045 664h1v1h-1zM1046 663h2v1h-2zM1048 662h1v1h-1zM1049 661h2v1h-2zM1051 660h3v1h-3zM1053 659h1v1h-1zM1054 661h1v2h-1zM1055 663h1v2h-1zM1056 665h1v2h-1zM1057 667h7v1h-7zM1064 668h2v1h-2zM1065 669h1v1h-1zM1066 670h1v2h-1zM1067 672h1v2h-1zM1068 674h1v2h-1zM1069 676h3v1h-3zM1072 677h6v1h-6zM1078 675h1v2h-1zM1079 674h1v1h-1zM1080 672h1v2h-1zM1081 671h1v1h-1zM1082 672h1v1h-1zM1083 673h1v1h-1zM1084 674h1v1h-1zM1085 675h1v1h-1zM1086 674h1v1h-1zM1087 673h1v1h-1zM1088 672h1v1h-1zM1089 670h1v2h-1zM1090 667h1v3h-1zM1091 665h1v2h-1zM1092 662h1v3h-1zM1093 660h3v1h-3zM1093 661h1v1h-1zM1096 659h4v1h-4zM1100 660h2v1h-2zM1101 661h1v1h-1zM1102 662h1v2h-1zM1103 664h1v2h-1zM1104 666h1v2h-1zM1105 668h1v2h-1zM1106 669h2v1h-2zM1108 670h2v1h-2zM1110 671h1v1h-1zM1111 672h1v1h-1zM1112 673h1v1h-1zM1113 674h2v1h-2zM1115 673h2v1h-2zM1117 672h3v1h-3zM1120 671h2v1h-2zM1121 670h1v1h-1zM1122 668h1v2h-1zM1123 666h1v2h-1zM1124 664h2v1h-2zM1124 665h1v1h-1zM1125 663h1v1h-1zM1126 665h1v2h-1zM1127 667h1v2h-1zM1128 669h1v2h-1zM1129 671h5v1h-5zM1134 672h1v1h-1zM1135 673h1v2h-1zM1136 675h1v1h-1zM1137 676h1v1h-1zM1138 677h1v1h-1zM1139 678h1v1h-1zM1140 679h1v1h-1zM1141 680h2v1h-2zM1143 681h2v1h-2zM1145 682h1v1h-1zM1146 683h1v1h-1zM1147 684h1v1h-1zM1148 685h1v1h-1zM1149 686h6v1h-6zM1155 687h2v1h-2zM1157 688h3v1h-3zM1160 689h4v1h-4zM1164 690h10v1h-10zM1174 691h1v1h-1zM1175 692h1v1h-1zM1176 693h1v1h-1zM1177 694h5v1h-5zM1181 692h1v2h-1zM1182 687h1v5h-1zM1183 683h1v4h-1zM1184 678h1v5h-1zM1185 675h3v1h-3zM1185 676h1v2h-1zM1188 674h4v1h-4zM1192 673h2v1h-2zM1194 672h1v1h-1zM1195 670h1v2h-1zM1196 669h1v1h-1zM1197 668h5v1h-5zM1202 667h1v1h-1zM1203 665h1v2h-1zM1204 664h1v1h-1zM1205 663h1v1h-1zM1206 664h1v2h-1zM1207 666h1v1h-1zM1208 667h1v2h-1zM1209 668h1v2h-1zM1210 665h1v3h-1zM1211 663h1v2h-1zM1212 660h1v3h-1zM1213 658h5v1h-5zM1213 659h1v1h-1zM1218 659h2v1h-2zM1220 660h2v1h-2zM1221 661h1v1h-1zM1222 658h1v2h-1zM1223 655h1v3h-1zM1224 653h1v2h-1zM1225 651h3v1h-3zM1225 652h1v1h-1zM1228 650h2v1h-2zM1229 651h1v1h-1zM1230 652h1v2h-1zM1231 654h1v2h-1zM1232 656h1v2h-1zM1233 658h1v2h-1zM1234 659h1v1h-1zM1235 660h2v1h-2zM1237 661h1v1h-1zM1238 660h1v1h-1zM1239 658h1v2h-1zM1240 657h1v1h-1zM1241 656h1v1h-1zM1242 655h2v1h-2zM1244 654h1v1h-1zM1245 653h6v1h-6zM1251 652h2v1h-2zM1253 651h1v1h-1zM1254 652h1v2h-1zM1255 654h1v1h-1zM1256 655h1v2h-1zM1257 657h1v1h-1zM1258 655h1v2h-1zM1259 654h1v1h-1zM1260 652h1v2h-1zM1261 651h1v1h-1zM1262 649h1v2h-1zM1263 647h1v2h-1zM1264 645h1v2h-1zM1265 644h1v1h-1zM1266 643h1v1h-1zM1267 641h1v2h-1zM1268 640h1v1h-1zM1269 639h1v1h-1zM1270 638h2v1h-2zM1272 637h1v1h-1zM1273 636h1v1h-1zM1274 635h1v1h-1zM1275 633h1v2h-1zM1276 632h1v1h-1zM1277 631h5v1h-5zM1281 632h1v1h-1zM1282 633h1v3h-1zM1283 636h1v4h-1zM1284 640h1v3h-1zM1285 643h1v2h-1zM1286 641h1v2h-1zM1287 639h1v2h-1zM1288 637h1v2h-1zM1289 636h2v1h-2zM1291 637h2v1h-2zM1293 638h2v1h-2zM1295 637h2v1h-2zM1297 636h2v1h-2zM1299 637h2v1h-2zM1301 638h1v1h-1zM1302 636h1v2h-1zM1303 635h1v1h-1zM1304 633h1v2h-1z" fill="#1e90ff"/>
<rect x="4" y="39" width="1635" height="1" fill="#000"/>
<rect x="4" y="39" width="1" height="693" fill="#000"/>
<rect x="1638" y="39" width="1" height="693" fill="#000"/>
<rect x="4" y="536" width="1635" height="1" fill="#000"/>
<rect x="4" y="537" width="1635" height="1" fill="#fff"/>
<rect x="4" y="538" width="1635" height="1" fill="#000"/>
<rect x="4" y="600" width="1635" height="1" fill="#000"/>
<rect x="4" y="601" width="1635" height="1" fill="#fff"/>
<rect x="4" y="602" width="1635" height="1" fill="#000"/>
<rect x="4" y="731" width="1635" height="1" fill="#000"/>
<rect x="1639" y="76" width="3" height="1" fill="#000"/>
<rect x="1639" y="124" width="3" height="1" fill="#000"/>
<rect x="1639" y="174" width="3" height="1" fill="#000"/>
<rect x="1639" y="222" width="3" height="1" fill="#000"/>
<rect x="1639" y="272" width="3" height="1" fill="#000"/>
<rect x="1639" y="321" width="3" height="1" fill="#000"/>
<rect x="1639" y="370" width="3" height="1" fill="#000"/>
<rect x="1639" y="419" width="3" height="1" fill="#000"/>
<rect x="1639" y="468" width="3" height="1" fill="#000"/>
<rect x="1639" y="516" width="3" height="1" fill="#000"/>
<rect x="1639" y="539" width="2" height="1" fill="#000"/>
<rect x="1639" y="566" width="2" height="1" fill="#000"/>
<rect x="1639" y="599" width="2" height="1" fill="#000"/>
<rect x="1639" y="603" width="2" height="1" fill="#000"/>
<rect x="1639" y="730" width="2" height="1" fill="#000"/>
<rect x="5" y="732" width="1" height="3" fill="#000"/>
<rect x="101" y="732" width="1" height="3" fill="#000"/>
<rect x="197" y="732" width="1" height="3" fill="#000"/>
<rect x="293" y="732" width="1" height="3" fill="#000"/>
<rect x="389" y="732" width="1" height="3" fill="#000"/>
<rect x="485" y="732" width="1" height="3" fill="#000"/>
<rect x="581" y="732" width="1" height="3" fill="#000"/>
<rect x="677" y="732" width="1" height="3" fill="#000"/>
<rect x="773" y="732" width="1" height="3" fill="#000"/>
<rect x="869" y="732" width="1" height="3" fill="#000"/>
<rect x="965" y="732" width="1" height="3" fill="#000"/>
<rect x="1061" y="732" width="1" height="3" fill="#000"/>
<rect x="1157" y="732" width="1" height="3" fill="#000"/>
<rect x="1253" y="732" width="1" height="3" fill="#000"/>
<rect x="0" y="755" width="1690" height="1" fill="#dcdcdc"/>
<rect x="154" y="757" width="1536" height="1" fill="#202020"/>
<rect x="154" y="758" width="1" height="1" fill="#202020"/>
<rect x="0" y="757" width="8" height="1" fill="#202020"/>
<rect x="7" y="757" width="1" height="2" fill="#202020"/>
<rect x="4" y="287" width="6" height="6" fill="#ff0000"/><rect x="6" y="289" width="2" height="2" fill="#fff"/>
<rect x="1632" y="287" width="6" height="6" fill="#ff0000"/><rect x="1634" y="289" width="2" height="2" fill="#fff"/>
</g>
</svg>
<div class="box" style="top:525px;background:#ff0000"><span>2917.0</span></div>
<div class="box" style="top:520px;background:#008000"><span>2933.8</span></div>
<div class="box" style="top:424px;background:#0000ff"><span>3243.0</span></div>
<div class="box" style="top:390px;background:#0000ff"><span>3352.0</span></div>
<div class="box" style="top:367px;background:#00ff7f"><span>3427.0</span></div>
<div class="box" style="top:332px;background:#000000"><span>3537.9</span></div>
<div class="box" style="top:284px;background:#ff0000"><span>3695.1</span></div>
<div class="t" style="left:23.4px;top:42px;height:16px;line-height:16px;font-size:12.5px"><span style="letter-spacing:-0.52px">CHINA300-,Daily</span><span style="position:absolute;left:96.6px;top:0;letter-spacing:0.12px">3445.8 3538.2 3420.4 3537.9</span></div>
<div class="t" style="left:9px;top:542px;height:16px;line-height:16px;font-size:12.5px">MACD(12,26,9) 92.56 73.45</div>
<div class="t" style="left:9px;top:606px;height:16px;line-height:16px;font-size:12.5px">RSI(14) 78.2685</div>

<div class="a" style="left:6px;top:60px;width:287px;height:80px;background:#fff"></div>
<div class="a" style="left:8px;top:62px;width:283px;height:76px;background:linear-gradient(#5858ff 0px,#4848f0 20px,#2a2ae0 30px,#1010c4 50px,#0000a4 72px,#0000a0 76px)"></div>
<div class="a" style="left:149px;top:89px;width:2px;height:49px;background:#fff"></div>
<div class="a" style="left:76px;top:62px;width:147px;height:27px;background:#fff"></div>
<div class="a" style="left:78px;top:62px;width:143px;height:25px;box-sizing:border-box;border:1px solid #a8a8a8;background:#fff"></div>
<div class="a" style="left:80px;top:64px;width:22px;height:21px;background:linear-gradient(#f2f2f2,#dcdcdc 45%,#cfcfcf 50%,#d6d6d6)"></div>
<div class="a" style="left:102px;top:63px;width:1px;height:23px;background:#b8b8b8"></div>
<div class="a" style="left:196px;top:63px;width:1px;height:23px;background:#b8b8b8"></div>
<div class="a" style="left:198px;top:64px;width:21px;height:21px;background:linear-gradient(#f2f2f2,#dcdcdc 45%,#cfcfcf 50%,#d6d6d6)"></div>
<div class="a" style="left:12px;top:88px;width:60px;height:1px;background:#1a1ab4"></div>
<div class="a" style="left:227px;top:88px;width:60px;height:1px;background:#1a1ab4"></div>
<div class="a" style="left:12px;top:89px;width:60px;height:1px;background:#8484f6"></div>
<div class="a" style="left:227px;top:89px;width:60px;height:1px;background:#8484f6"></div>
<div class="a" style="left:8px;top:62px;width:68px;height:1px;background:#2a2ad0"></div>
<div class="a" style="left:223px;top:62px;width:68px;height:1px;background:#2a2ad0"></div>
<div class="a" style="left:8px;top:62px;width:1px;height:76px;background:rgba(0,0,150,.55)"></div>
<div class="a" style="left:290px;top:62px;width:1px;height:76px;background:rgba(0,0,150,.55)"></div>
<div class="t" style="left:8px;top:66.5px;width:68px;text-align:center;color:#fff;font-size:15.4px;line-height:18px;transform:scaleX(0.87);transform-origin:33.7px 0">SELL</div>
<div class="t" style="left:223px;top:66.5px;width:68px;text-align:center;color:#fff;font-size:15.4px;line-height:18px;transform:scaleX(0.9);transform-origin:34px 0">BUY</div>
<div class="t" style="left:103px;top:65px;width:89.6px;text-align:right;color:#000;font-size:15.2px;line-height:20px">1.00</div>
<div class="t" style="left:38.6px;top:112px;color:#fff;font-size:15px;font-weight:bold;line-height:18px;letter-spacing:0.4px">3536</div>
<div class="t" style="left:77.2px;top:88px;color:#fff;font-size:40.5px;line-height:48px"><span style="letter-spacing:-1.8px">.</span>4</div>
<div class="t" style="left:180.6px;top:112px;color:#fff;font-size:15px;font-weight:bold;line-height:18px;letter-spacing:0.4px">3542</div>
<div class="t" style="left:220px;top:88px;color:#fff;font-size:40.5px;line-height:48px"><span style="letter-spacing:-1.8px">.</span>0</div>
<svg width="1690" height="759" viewBox="0 0 1690 759" font-family="Liberation Sans, DejaVu Sans, sans-serif">
<g id="icons">
<!-- grid with F -->
<g stroke="#5a5a5a" stroke-width="1.3" stroke-dasharray="1.2,1.37" fill="none">
<line x1="4.5" y1="11" x2="21.5" y2="11"/>
<line x1="4.5" y1="14.9" x2="21.5" y2="14.9"/>
<line x1="4.5" y1="19.9" x2="21.5" y2="19.9"/>
<line x1="4.5" y1="24.9" x2="16.5" y2="24.9"/>
</g>
<text x="16.6" y="30.6" font-size="9.6" font-weight="bold" fill="#4a4a4a">F</text>
<!-- A -->
<text x="41.4" y="25.6" font-size="15.8" font-weight="bold" fill="#4c4c4c">A</text>
<!-- T in dotted box -->
<rect x="74.5" y="12.5" width="14" height="15" fill="none" stroke="#505050" stroke-width="1" stroke-dasharray="1,1.5"/>
<rect x="73" y="10" width="3" height="2.6" fill="#707070"/>
<text transform="translate(76.4,25.4) scale(1.14,1)" font-size="14.4" font-weight="bold" fill="#767676">T</text>
<!-- arrows + check -->
<path d="M111 11.6 L115.6 15.4 L115.6 17.4 L106.6 17.4 L106.6 15.4 Z" fill="#5c5c5c"/>
<path d="M115.8 22.6 L124.2 22.6 L124.2 24 L120 28 L115.8 24 Z" fill="#5c5c5c"/>
<path d="M109.4 21 L112 23.4 L117.6 17" fill="none" stroke="#505050" stroke-width="1.5"/>
<path d="M129.8 18.1 L137.3 18.1 L133.55 22.2 Z" fill="#000"/>
<!-- grip -->
<g fill="#a6a6a6" shape-rendering="crispEdges">
<rect x="149" y="6" width="3" height="1"/><rect x="149" y="8" width="3" height="1"/><rect x="149" y="10" width="3" height="1"/><rect x="149" y="12" width="3" height="1"/><rect x="149" y="14" width="3" height="1"/><rect x="149" y="16" width="3" height="1"/><rect x="149" y="18" width="3" height="1"/><rect x="149" y="20" width="3" height="1"/><rect x="149" y="22" width="3" height="1"/><rect x="149" y="24" width="3" height="1"/><rect x="149" y="26" width="3" height="1"/><rect x="149" y="28" width="3" height="1"/><rect x="149" y="30" width="3" height="1"/><rect x="149" y="32" width="3" height="1"/>
</g>
<!-- chart markers -->
<path d="M1304 40 L1315 40 L1309.5 46 Z" fill="#c0c0c0"/>
<path d="M8 52 L17 52 L12.5 47 Z" fill="#000"/>
<!-- spinner arrows -->
<path d="M87.5 72.5 L94.5 72.5 L91 76.5 Z" fill="#5a6ab8"/>
<path d="M205 76.5 L212.4 76.5 L208.7 72.5 Z" fill="#5a6ab8"/>
</g>
</svg>
</body></html>
